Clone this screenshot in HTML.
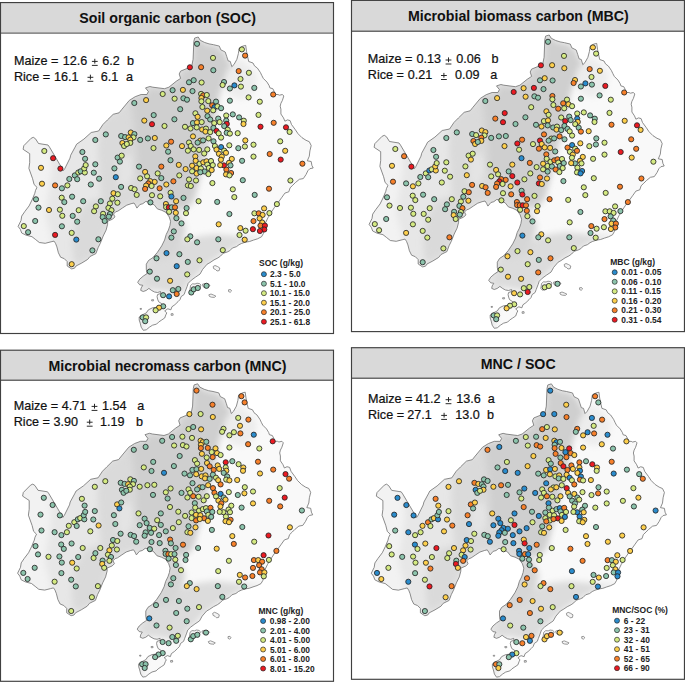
<!DOCTYPE html><html><head><meta charset="utf-8"><style>html,body{margin:0;padding:0;background:#fff;overflow:hidden}svg{display:block}text{font-family:"Liberation Sans",sans-serif}</style></head><body>
<svg width="685" height="682" viewBox="0 0 685 682">
<defs><filter id="gblur" x="-20%" y="-20%" width="140%" height="140%"><feGaussianBlur stdDeviation="3"/></filter><clipPath id="mclip"><path d="M23.1,149.3 L23.8,145.7 L31.1,138.3 L33.3,137.3 L35.5,138.8 L38.5,143.5 L48.0,145.0 L49.5,147.1 L63.4,170.6 L64.9,168.4 L70.0,158.1 L70.7,155.2 L75.1,147.1 L76.6,144.2 L83.9,139.1 L91.2,132.5 L98.6,131.0 L103.0,124.4 L107.4,120.0 L113.2,114.3 L119.1,112.8 L122.0,109.2 L129.3,100.4 L135.2,96.7 L141.1,94.5 L146.9,94.5 L148.4,91.6 L145.5,87.9 L149.9,86.5 L152.8,87.2 L164.5,88.7 L168.9,87.2 L176.2,81.3 L180.6,78.4 L179.2,74.0 L180.6,71.1 L188.0,68.1 L191.6,66.7 L193.1,59.3 L193.8,41.7 L194.6,38.1 L198.2,37.0 L200.3,40.3 L204.7,42.5 L209.1,43.9 L213.5,44.7 L219.3,46.1 L220.8,49.8 L225.2,52.0 L226.7,56.4 L228.1,60.8 L230.3,61.5 L231.8,66.7 L234.0,64.5 L236.9,59.3 L238.4,53.5 L239.1,48.3 L242.8,46.1 L245.7,45.4 L246.5,51.3 L247.9,57.9 L248.7,61.5 L253.0,63.0 L254.5,65.9 L257.4,68.1 L260.4,72.5 L261.8,75.5 L263.3,78.4 L267.0,82.1 L269.2,85.7 L269.9,87.9 L272.8,88.7 L274.3,91.6 L275.0,94.5 L278.0,94.5 L279.4,95.2 L282.4,94.5 L283.8,96.0 L282.4,100.4 L280.9,103.3 L280.2,106.2 L280.9,109.2 L280.9,114.0 L283.5,117.9 L284.9,121.2 L287.5,119.9 L290.1,120.6 L291.5,124.5 L295.4,129.8 L298.0,133.7 L302.0,137.7 L306.0,140.3 L309.3,141.7 L311.2,145.6 L309.9,150.9 L309.3,156.2 L307.3,160.8 L311.2,161.5 L311.9,165.4 L313.2,168.0 L309.9,168.7 L307.9,170.7 L306.0,174.6 L303.3,178.6 L299.4,179.3 L295.4,182.6 L292.8,185.2 L290.1,187.8 L288.8,191.8 L284.9,193.1 L281.9,197.3 L278.6,201.9 L274.6,207.2 L272.0,211.1 L268.0,217.7 L265.4,223.0 L264.1,229.6 L263.4,233.5 L261.5,236.8 L257.5,238.8 L253.5,240.1 L249.6,241.5 L245.6,242.1 L241.7,243.4 L239.0,244.7 L236.4,246.7 L232.4,248.0 L229.8,250.7 L227.2,252.0 L223.2,253.3 L220.6,256.0 L217.9,257.9 L214.0,259.9 L210.0,262.6 L207.1,264.2 L202.7,269.3 L200.0,274.1 L195.4,277.2 L191.3,280.2 L188.2,283.3 L187.2,286.3 L185.2,291.5 L184.1,294.5 L181.1,296.6 L180.0,299.6 L178.0,301.7 L174.9,304.7 L171.9,306.8 L170.9,309.8 L167.8,308.8 L164.7,310.9 L166.8,312.9 L165.8,314.9 L164.7,318.0 L161.7,320.0 L158.6,322.1 L156.6,324.1 L152.5,325.2 L149.4,327.2 L146.3,329.8 L143.3,330.3 L141.2,327.2 L140.2,323.1 L139.2,320.0 L139.2,317.0 L142.3,314.9 L146.3,312.9 L148.4,309.8 L152.5,307.8 L156.6,307.3 L160.6,306.8 L163.7,305.8 L161.7,303.7 L158.6,301.7 L157.6,299.1 L157.1,296.6 L157.6,294.5 L160.6,293.5 L160.6,291.5 L157.6,292.5 L154.5,292.0 L151.5,290.4 L148.9,288.4 L146.3,290.4 L143.3,291.5 L140.7,290.4 L141.2,287.9 L142.8,285.3 L139.7,284.8 L137.7,282.3 L139.7,279.2 L143.3,276.1 L146.3,274.1 L147.0,273.7 L146.3,269.3 L146.3,264.2 L148.5,260.5 L152.9,257.6 L157.3,252.5 L161.7,245.9 L164.6,240.0 L166.2,234.5 L168.4,230.1 L169.9,225.7 L170.6,221.3 L169.2,216.9 L166.2,212.5 L161.8,210.3 L157.4,208.9 L154.5,205.2 L150.1,202.3 L145.7,201.5 L142.8,203.7 L139.9,204.5 L136.9,208.1 L135.5,205.2 L134.0,203.0 L131.1,203.7 L126.7,205.2 L122.3,208.1 L117.9,211.1 L115.7,211.8 L113.5,214.0 L114.9,216.9 L112.7,219.1 L107.6,221.3 L107.6,224.3 L106.1,230.1 L103.2,236.0 L100.3,243.3 L98.1,247.7 L95.9,253.6 L90.0,256.5 L87.7,259.4 L81.8,263.0 L76.0,266.0 L74.5,268.2 L71.6,268.9 L67.2,266.0 L67.2,261.6 L64.3,258.7 L60.6,257.2 L58.4,252.8 L56.9,246.9 L55.5,243.3 L54.0,241.1 L51.1,241.8 L45.2,243.3 L39.3,242.5 L35.7,239.6 L32.0,236.7 L26.1,235.2 L21.7,233.0 L20.3,229.3 L18.1,226.4 L21.0,220.5 L21.7,216.1 L24.7,211.7 L29.1,205.9 L32.0,200.0 L34.8,193.3 L35.5,190.4 L37.0,187.4 L34.1,184.5 L32.6,178.7 L28.9,168.4 L29.7,162.5 L29.7,153.7 Z"/></clipPath>
<g id="map">
<path d="M23.1,149.3 L23.8,145.7 L31.1,138.3 L33.3,137.3 L35.5,138.8 L38.5,143.5 L48.0,145.0 L49.5,147.1 L63.4,170.6 L64.9,168.4 L70.0,158.1 L70.7,155.2 L75.1,147.1 L76.6,144.2 L83.9,139.1 L91.2,132.5 L98.6,131.0 L103.0,124.4 L107.4,120.0 L113.2,114.3 L119.1,112.8 L122.0,109.2 L129.3,100.4 L135.2,96.7 L141.1,94.5 L146.9,94.5 L148.4,91.6 L145.5,87.9 L149.9,86.5 L152.8,87.2 L164.5,88.7 L168.9,87.2 L176.2,81.3 L180.6,78.4 L179.2,74.0 L180.6,71.1 L188.0,68.1 L191.6,66.7 L193.1,59.3 L193.8,41.7 L194.6,38.1 L198.2,37.0 L200.3,40.3 L204.7,42.5 L209.1,43.9 L213.5,44.7 L219.3,46.1 L220.8,49.8 L225.2,52.0 L226.7,56.4 L228.1,60.8 L230.3,61.5 L231.8,66.7 L234.0,64.5 L236.9,59.3 L238.4,53.5 L239.1,48.3 L242.8,46.1 L245.7,45.4 L246.5,51.3 L247.9,57.9 L248.7,61.5 L253.0,63.0 L254.5,65.9 L257.4,68.1 L260.4,72.5 L261.8,75.5 L263.3,78.4 L267.0,82.1 L269.2,85.7 L269.9,87.9 L272.8,88.7 L274.3,91.6 L275.0,94.5 L278.0,94.5 L279.4,95.2 L282.4,94.5 L283.8,96.0 L282.4,100.4 L280.9,103.3 L280.2,106.2 L280.9,109.2 L280.9,114.0 L283.5,117.9 L284.9,121.2 L287.5,119.9 L290.1,120.6 L291.5,124.5 L295.4,129.8 L298.0,133.7 L302.0,137.7 L306.0,140.3 L309.3,141.7 L311.2,145.6 L309.9,150.9 L309.3,156.2 L307.3,160.8 L311.2,161.5 L311.9,165.4 L313.2,168.0 L309.9,168.7 L307.9,170.7 L306.0,174.6 L303.3,178.6 L299.4,179.3 L295.4,182.6 L292.8,185.2 L290.1,187.8 L288.8,191.8 L284.9,193.1 L281.9,197.3 L278.6,201.9 L274.6,207.2 L272.0,211.1 L268.0,217.7 L265.4,223.0 L264.1,229.6 L263.4,233.5 L261.5,236.8 L257.5,238.8 L253.5,240.1 L249.6,241.5 L245.6,242.1 L241.7,243.4 L239.0,244.7 L236.4,246.7 L232.4,248.0 L229.8,250.7 L227.2,252.0 L223.2,253.3 L220.6,256.0 L217.9,257.9 L214.0,259.9 L210.0,262.6 L207.1,264.2 L202.7,269.3 L200.0,274.1 L195.4,277.2 L191.3,280.2 L188.2,283.3 L187.2,286.3 L185.2,291.5 L184.1,294.5 L181.1,296.6 L180.0,299.6 L178.0,301.7 L174.9,304.7 L171.9,306.8 L170.9,309.8 L167.8,308.8 L164.7,310.9 L166.8,312.9 L165.8,314.9 L164.7,318.0 L161.7,320.0 L158.6,322.1 L156.6,324.1 L152.5,325.2 L149.4,327.2 L146.3,329.8 L143.3,330.3 L141.2,327.2 L140.2,323.1 L139.2,320.0 L139.2,317.0 L142.3,314.9 L146.3,312.9 L148.4,309.8 L152.5,307.8 L156.6,307.3 L160.6,306.8 L163.7,305.8 L161.7,303.7 L158.6,301.7 L157.6,299.1 L157.1,296.6 L157.6,294.5 L160.6,293.5 L160.6,291.5 L157.6,292.5 L154.5,292.0 L151.5,290.4 L148.9,288.4 L146.3,290.4 L143.3,291.5 L140.7,290.4 L141.2,287.9 L142.8,285.3 L139.7,284.8 L137.7,282.3 L139.7,279.2 L143.3,276.1 L146.3,274.1 L147.0,273.7 L146.3,269.3 L146.3,264.2 L148.5,260.5 L152.9,257.6 L157.3,252.5 L161.7,245.9 L164.6,240.0 L166.2,234.5 L168.4,230.1 L169.9,225.7 L170.6,221.3 L169.2,216.9 L166.2,212.5 L161.8,210.3 L157.4,208.9 L154.5,205.2 L150.1,202.3 L145.7,201.5 L142.8,203.7 L139.9,204.5 L136.9,208.1 L135.5,205.2 L134.0,203.0 L131.1,203.7 L126.7,205.2 L122.3,208.1 L117.9,211.1 L115.7,211.8 L113.5,214.0 L114.9,216.9 L112.7,219.1 L107.6,221.3 L107.6,224.3 L106.1,230.1 L103.2,236.0 L100.3,243.3 L98.1,247.7 L95.9,253.6 L90.0,256.5 L87.7,259.4 L81.8,263.0 L76.0,266.0 L74.5,268.2 L71.6,268.9 L67.2,266.0 L67.2,261.6 L64.3,258.7 L60.6,257.2 L58.4,252.8 L56.9,246.9 L55.5,243.3 L54.0,241.1 L51.1,241.8 L45.2,243.3 L39.3,242.5 L35.7,239.6 L32.0,236.7 L26.1,235.2 L21.7,233.0 L20.3,229.3 L18.1,226.4 L21.0,220.5 L21.7,216.1 L24.7,211.7 L29.1,205.9 L32.0,200.0 L34.8,193.3 L35.5,190.4 L37.0,187.4 L34.1,184.5 L32.6,178.7 L28.9,168.4 L29.7,162.5 L29.7,153.7 Z" fill="#fff"/>
<g clip-path="url(#mclip)"><path d="M0,0H330V340H0Z" fill="#f9f9f9"/><path d="M0,0 L200,0 L200,130 L196,200 L175,215 L165,240 L150,300 L140,340 L0,340Z" fill="#e7e7e7" filter="url(#gblur)"/><path d="M0,120 L48,120 L52,170 L45,215 L52,240 L50,300 L0,300Z" fill="#f2f2f2" filter="url(#gblur)"/><path d="M228,66 L234,62 L240,58 L250,66 L258,76 L255,92 L242,100 L230,96 L224,84Z" fill="#ededed" filter="url(#gblur)"/><path d="M75,222 L85,203 L100,198 L110,205 L108,222 L104,234 L100,243 L96,253 L88,259 L80,264 L74,262 L72,245Z" fill="#dadada" filter="url(#gblur)"/><path d="M172,246 L185,240 L200,236 L215,234 L235,236 L250,238 L262,236 L257.5,238.8 L249.6,241.5 L241.7,243.4 L236.4,246.7 L229.8,250.7 L223.2,253.3 L217.9,257.9 L210,262.6 L202.7,269.3 L195.4,277.2 L188.2,283.3 L185.2,291.5 L178,293 L165,292 L155,290 L145,287 L140,282 L146,274 L146,264 L152,257 L160,252Z" fill="#dcdcdc" filter="url(#gblur)"/><path d="M158,205 L170,207 L180,215 L186,228 L182,245 L172,257 L160,260 L150,258 L157,245 L163,235 L167,222 L162,212Z" fill="#d6d6d6" filter="url(#gblur)"/><path d="M100,125 L112,114 L122,108 L129,100 L138,105 L138,178 L150,180 L160,188 L170,204 L166,212 L158,209 L150,202 L140,204 L132,203 L122,207 L115,212 L108,220 L102,205 L100,185 L98,150Z" fill="#dadada" filter="url(#gblur)"/><path d="M117,158 L132,155 L135,172 L128,188 L118,186Z" fill="#e4e4e4" filter="url(#gblur)"/><path d="M129.3,100.4 L135.2,96.7 L141.1,94.5 L146.9,94.5 L148.4,91.6 L145.5,87.9 L149.9,86.5 L152.8,87.2 L164.5,88.7 L168.9,87.2 L176.2,81.3 L180.6,78.4 L179.2,74 L180.6,71.1 L188,68.1 L191.6,66.7 L193.1,59.3 L193.8,41.7 L194.6,38.1 L198.2,37 L200.3,40.3 L204.7,42.5 L209.1,43.9 L213.5,44.7 L219.3,46.1 L220.8,49.8 L225.2,52 L226.7,56.4 L228.1,60.8 L230.3,61.5 L231.8,66.7 L228,70 L224,82 L220,94 L217,106 L215,120 L212,132 L208,145 L204,160 L200,178 L195,193 L190,205 L180,210 L170,204 L160,186 L150,178 L137,177 L135,140 L132,108Z" fill="#cfcfcf" filter="url(#gblur)"/></g>
<path d="M23.1,149.3 L23.8,145.7 L31.1,138.3 L33.3,137.3 L35.5,138.8 L38.5,143.5 L48.0,145.0 L49.5,147.1 L63.4,170.6 L64.9,168.4 L70.0,158.1 L70.7,155.2 L75.1,147.1 L76.6,144.2 L83.9,139.1 L91.2,132.5 L98.6,131.0 L103.0,124.4 L107.4,120.0 L113.2,114.3 L119.1,112.8 L122.0,109.2 L129.3,100.4 L135.2,96.7 L141.1,94.5 L146.9,94.5 L148.4,91.6 L145.5,87.9 L149.9,86.5 L152.8,87.2 L164.5,88.7 L168.9,87.2 L176.2,81.3 L180.6,78.4 L179.2,74.0 L180.6,71.1 L188.0,68.1 L191.6,66.7 L193.1,59.3 L193.8,41.7 L194.6,38.1 L198.2,37.0 L200.3,40.3 L204.7,42.5 L209.1,43.9 L213.5,44.7 L219.3,46.1 L220.8,49.8 L225.2,52.0 L226.7,56.4 L228.1,60.8 L230.3,61.5 L231.8,66.7 L234.0,64.5 L236.9,59.3 L238.4,53.5 L239.1,48.3 L242.8,46.1 L245.7,45.4 L246.5,51.3 L247.9,57.9 L248.7,61.5 L253.0,63.0 L254.5,65.9 L257.4,68.1 L260.4,72.5 L261.8,75.5 L263.3,78.4 L267.0,82.1 L269.2,85.7 L269.9,87.9 L272.8,88.7 L274.3,91.6 L275.0,94.5 L278.0,94.5 L279.4,95.2 L282.4,94.5 L283.8,96.0 L282.4,100.4 L280.9,103.3 L280.2,106.2 L280.9,109.2 L280.9,114.0 L283.5,117.9 L284.9,121.2 L287.5,119.9 L290.1,120.6 L291.5,124.5 L295.4,129.8 L298.0,133.7 L302.0,137.7 L306.0,140.3 L309.3,141.7 L311.2,145.6 L309.9,150.9 L309.3,156.2 L307.3,160.8 L311.2,161.5 L311.9,165.4 L313.2,168.0 L309.9,168.7 L307.9,170.7 L306.0,174.6 L303.3,178.6 L299.4,179.3 L295.4,182.6 L292.8,185.2 L290.1,187.8 L288.8,191.8 L284.9,193.1 L281.9,197.3 L278.6,201.9 L274.6,207.2 L272.0,211.1 L268.0,217.7 L265.4,223.0 L264.1,229.6 L263.4,233.5 L261.5,236.8 L257.5,238.8 L253.5,240.1 L249.6,241.5 L245.6,242.1 L241.7,243.4 L239.0,244.7 L236.4,246.7 L232.4,248.0 L229.8,250.7 L227.2,252.0 L223.2,253.3 L220.6,256.0 L217.9,257.9 L214.0,259.9 L210.0,262.6 L207.1,264.2 L202.7,269.3 L200.0,274.1 L195.4,277.2 L191.3,280.2 L188.2,283.3 L187.2,286.3 L185.2,291.5 L184.1,294.5 L181.1,296.6 L180.0,299.6 L178.0,301.7 L174.9,304.7 L171.9,306.8 L170.9,309.8 L167.8,308.8 L164.7,310.9 L166.8,312.9 L165.8,314.9 L164.7,318.0 L161.7,320.0 L158.6,322.1 L156.6,324.1 L152.5,325.2 L149.4,327.2 L146.3,329.8 L143.3,330.3 L141.2,327.2 L140.2,323.1 L139.2,320.0 L139.2,317.0 L142.3,314.9 L146.3,312.9 L148.4,309.8 L152.5,307.8 L156.6,307.3 L160.6,306.8 L163.7,305.8 L161.7,303.7 L158.6,301.7 L157.6,299.1 L157.1,296.6 L157.6,294.5 L160.6,293.5 L160.6,291.5 L157.6,292.5 L154.5,292.0 L151.5,290.4 L148.9,288.4 L146.3,290.4 L143.3,291.5 L140.7,290.4 L141.2,287.9 L142.8,285.3 L139.7,284.8 L137.7,282.3 L139.7,279.2 L143.3,276.1 L146.3,274.1 L147.0,273.7 L146.3,269.3 L146.3,264.2 L148.5,260.5 L152.9,257.6 L157.3,252.5 L161.7,245.9 L164.6,240.0 L166.2,234.5 L168.4,230.1 L169.9,225.7 L170.6,221.3 L169.2,216.9 L166.2,212.5 L161.8,210.3 L157.4,208.9 L154.5,205.2 L150.1,202.3 L145.7,201.5 L142.8,203.7 L139.9,204.5 L136.9,208.1 L135.5,205.2 L134.0,203.0 L131.1,203.7 L126.7,205.2 L122.3,208.1 L117.9,211.1 L115.7,211.8 L113.5,214.0 L114.9,216.9 L112.7,219.1 L107.6,221.3 L107.6,224.3 L106.1,230.1 L103.2,236.0 L100.3,243.3 L98.1,247.7 L95.9,253.6 L90.0,256.5 L87.7,259.4 L81.8,263.0 L76.0,266.0 L74.5,268.2 L71.6,268.9 L67.2,266.0 L67.2,261.6 L64.3,258.7 L60.6,257.2 L58.4,252.8 L56.9,246.9 L55.5,243.3 L54.0,241.1 L51.1,241.8 L45.2,243.3 L39.3,242.5 L35.7,239.6 L32.0,236.7 L26.1,235.2 L21.7,233.0 L20.3,229.3 L18.1,226.4 L21.0,220.5 L21.7,216.1 L24.7,211.7 L29.1,205.9 L32.0,200.0 L34.8,193.3 L35.5,190.4 L37.0,187.4 L34.1,184.5 L32.6,178.7 L28.9,168.4 L29.7,162.5 L29.7,153.7 Z" fill="none" stroke="#707070" stroke-width="0.8" stroke-linejoin="round"/>
<path d="M190.5,285.5 L192.5,283.8 L195.0,284.0 L197.0,283.2 L199.5,283.6 L201.0,285.0 L199.8,287.5 L197.0,289.5 L194.0,291.5 L191.5,292.3 L189.8,290.5 L190.2,288.0ZM202.5,284.2 L205.0,283.6 L208.5,284.0 L210.0,285.5 L208.0,287.2 L205.0,287.8 L203.0,286.6ZM213.2,266.5 L215.0,265.5 L217.5,266.5 L219.8,268.0 L219.2,270.6 L217.0,271.0 L215.5,269.5 L213.6,268.6ZM208.8,294.8 L211.0,294.0 L213.5,295.0 L215.8,296.0 L214.5,297.4 L211.5,297.2 L209.5,296.5ZM228.5,289.8 L230.5,289.5 L231.6,291.0 L230.2,292.3 L228.6,291.6ZM151.5,299.8 L153.5,299.6 L153.6,300.8 L151.8,301.0ZM171.0,313.8 L173.0,313.6 L173.2,315.2 L171.2,315.4ZM140.0,308.5 L141.5,308.4 L141.4,309.4 L140.1,309.3Z" fill="#f4f4f4" stroke="#707070" stroke-width="0.7"/>
</g></defs>
<rect x="0.5" y="2.57" width="333.0" height="330.93" fill="#fff"/>
<rect x="0.5" y="2.57" width="333.0" height="30.53" fill="#d9d9d9"/>
<line x1="0.5" y1="33.1" x2="333.5" y2="33.1" stroke="#6a6a6a" stroke-width="1.4"/>
<rect x="0.5" y="2.57" width="333.0" height="330.93" fill="none" stroke="#404040" stroke-width="1.15"/>
<text x="79.29" y="22.9" font-size="14.2" font-weight="bold" fill="#111">Soil organic carbon (SOC)</text>
<g transform="translate(0,0)">
<use href="#map"/>
<g stroke="#262626" stroke-width="0.85"><circle cx="121.2" cy="136.0" r="2.58" fill="#8cc4ac"/><circle cx="125.1" cy="137.1" r="2.58" fill="#8cc4ac"/><circle cx="130.8" cy="132.5" r="2.58" fill="#fdcf4c"/><circle cx="134.4" cy="134.1" r="2.58" fill="#8cc4ac"/><circle cx="128.6" cy="137.4" r="2.58" fill="#fdcf4c"/><circle cx="133.5" cy="137.4" r="2.58" fill="#d4ea82"/><circle cx="130.3" cy="139.7" r="2.58" fill="#fdcf4c"/><circle cx="130.3" cy="142.9" r="2.58" fill="#d4ea82"/><circle cx="122.4" cy="143.0" r="2.58" fill="#fdcf4c"/><circle cx="124.1" cy="146.0" r="2.58" fill="#d4ea82"/><circle cx="126.8" cy="144.0" r="2.58" fill="#d4ea82"/><circle cx="140.2" cy="139.9" r="2.58" fill="#8cc4ac"/><circle cx="147.9" cy="138.4" r="2.58" fill="#8cc4ac"/><circle cx="154.8" cy="138.0" r="2.58" fill="#fdcf4c"/><circle cx="153.5" cy="148.1" r="2.58" fill="#d4ea82"/><circle cx="152.0" cy="124.2" r="2.58" fill="#ec1a22"/><circle cx="192.5" cy="91.1" r="2.58" fill="#8cc4ac"/><circle cx="201.1" cy="93.9" r="2.58" fill="#d4ea82"/><circle cx="203.2" cy="95.4" r="2.58" fill="#f7802a"/><circle cx="206.8" cy="95.0" r="2.58" fill="#d4ea82"/><circle cx="201.4" cy="98.0" r="2.58" fill="#fdcf4c"/><circle cx="201.4" cy="101.3" r="2.58" fill="#d4ea82"/><circle cx="208.3" cy="101.1" r="2.58" fill="#d4ea82"/><circle cx="216.0" cy="101.6" r="2.58" fill="#8cc4ac"/><circle cx="212.2" cy="105.3" r="2.58" fill="#f7802a"/><circle cx="214.5" cy="107.2" r="2.58" fill="#2a8ccd"/><circle cx="217.5" cy="106.3" r="2.58" fill="#d4ea82"/><circle cx="221.1" cy="108.2" r="2.58" fill="#8cc4ac"/><circle cx="202.4" cy="107.0" r="2.58" fill="#d4ea82"/><circle cx="207.2" cy="110.7" r="2.58" fill="#fdcf4c"/><circle cx="213.2" cy="110.3" r="2.58" fill="#d4ea82"/><circle cx="183.4" cy="98.3" r="2.58" fill="#8cc4ac"/><circle cx="187.0" cy="99.7" r="2.58" fill="#8cc4ac"/><circle cx="229.9" cy="100.7" r="2.58" fill="#8cc4ac"/><circle cx="229.9" cy="88.5" r="2.58" fill="#8cc4ac"/><circle cx="195.4" cy="113.3" r="2.58" fill="#d4ea82"/><circle cx="197.6" cy="116.8" r="2.58" fill="#fdcf4c"/><circle cx="207.5" cy="116.2" r="2.58" fill="#8cc4ac"/><circle cx="210.2" cy="119.5" r="2.58" fill="#8cc4ac"/><circle cx="218.2" cy="118.6" r="2.58" fill="#8cc4ac"/><circle cx="219.7" cy="122.1" r="2.58" fill="#d4ea82"/><circle cx="214.2" cy="123.1" r="2.58" fill="#d4ea82"/><circle cx="226.2" cy="115.5" r="2.58" fill="#d4ea82"/><circle cx="226.2" cy="120.6" r="2.58" fill="#8cc4ac"/><circle cx="226.8" cy="123.9" r="2.58" fill="#ec1a22"/><circle cx="224.2" cy="126.1" r="2.58" fill="#8cc4ac"/><circle cx="227.7" cy="129.7" r="2.58" fill="#d4ea82"/><circle cx="226.7" cy="132.8" r="2.58" fill="#8cc4ac"/><circle cx="229.9" cy="133.6" r="2.58" fill="#d4ea82"/><circle cx="232.8" cy="114.4" r="2.58" fill="#8cc4ac"/><circle cx="192.9" cy="123.1" r="2.58" fill="#8cc4ac"/><circle cx="197.0" cy="122.4" r="2.58" fill="#fdcf4c"/><circle cx="201.7" cy="122.1" r="2.58" fill="#d4ea82"/><circle cx="185.0" cy="126.8" r="2.58" fill="#d4ea82"/><circle cx="190.5" cy="128.5" r="2.58" fill="#d4ea82"/><circle cx="196.7" cy="127.4" r="2.58" fill="#d4ea82"/><circle cx="202.2" cy="129.5" r="2.58" fill="#fdcf4c"/><circle cx="206.0" cy="128.6" r="2.58" fill="#d4ea82"/><circle cx="205.5" cy="131.6" r="2.58" fill="#fdcf4c"/><circle cx="210.2" cy="132.1" r="2.58" fill="#d4ea82"/><circle cx="213.4" cy="127.9" r="2.58" fill="#8cc4ac"/><circle cx="216.5" cy="130.9" r="2.58" fill="#ec1a22"/><circle cx="218.7" cy="133.4" r="2.58" fill="#d4ea82"/><circle cx="221.1" cy="137.6" r="2.58" fill="#d4ea82"/><circle cx="193.0" cy="136.4" r="2.58" fill="#fdcf4c"/><circle cx="208.6" cy="138.4" r="2.58" fill="#d4ea82"/><circle cx="213.5" cy="141.3" r="2.58" fill="#8cc4ac"/><circle cx="200.3" cy="140.6" r="2.58" fill="#fdcf4c"/><circle cx="203.1" cy="140.4" r="2.58" fill="#8cc4ac"/><circle cx="197.6" cy="142.6" r="2.58" fill="#8cc4ac"/><circle cx="189.0" cy="142.5" r="2.58" fill="#d4ea82"/><circle cx="190.7" cy="146.0" r="2.58" fill="#d4ea82"/><circle cx="187.9" cy="150.7" r="2.58" fill="#d4ea82"/><circle cx="193.7" cy="149.4" r="2.58" fill="#d4ea82"/><circle cx="199.1" cy="149.9" r="2.58" fill="#d4ea82"/><circle cx="204.2" cy="153.5" r="2.58" fill="#d4ea82"/><circle cx="207.3" cy="149.4" r="2.58" fill="#d4ea82"/><circle cx="214.9" cy="146.0" r="2.58" fill="#d4ea82"/><circle cx="221.1" cy="147.1" r="2.58" fill="#2a8ccd"/><circle cx="216.5" cy="149.6" r="2.58" fill="#fdcf4c"/><circle cx="224.2" cy="150.7" r="2.58" fill="#d4ea82"/><circle cx="226.0" cy="152.8" r="2.58" fill="#fdcf4c"/><circle cx="218.9" cy="153.8" r="2.58" fill="#fdcf4c"/><circle cx="221.8" cy="156.6" r="2.58" fill="#fdcf4c"/><circle cx="220.9" cy="159.7" r="2.58" fill="#fdcf4c"/><circle cx="229.3" cy="145.3" r="2.58" fill="#d4ea82"/><circle cx="231.8" cy="158.9" r="2.58" fill="#fdcf4c"/><circle cx="229.0" cy="162.8" r="2.58" fill="#fdcf4c"/><circle cx="230.5" cy="165.4" r="2.58" fill="#8cc4ac"/><circle cx="223.9" cy="165.4" r="2.58" fill="#ec1a22"/><circle cx="220.2" cy="165.1" r="2.58" fill="#fdcf4c"/><circle cx="226.4" cy="169.7" r="2.58" fill="#f7802a"/><circle cx="195.3" cy="156.4" r="2.58" fill="#fdcf4c"/><circle cx="195.7" cy="160.8" r="2.58" fill="#fdcf4c"/><circle cx="199.5" cy="163.9" r="2.58" fill="#d4ea82"/><circle cx="203.3" cy="162.3" r="2.58" fill="#fdcf4c"/><circle cx="206.5" cy="161.3" r="2.58" fill="#fdcf4c"/><circle cx="211.0" cy="161.0" r="2.58" fill="#d4ea82"/><circle cx="192.1" cy="165.7" r="2.58" fill="#fdcf4c"/><circle cx="196.5" cy="168.0" r="2.58" fill="#fdcf4c"/><circle cx="200.9" cy="168.5" r="2.58" fill="#d4ea82"/><circle cx="207.3" cy="164.6" r="2.58" fill="#d4ea82"/><circle cx="208.8" cy="168.0" r="2.58" fill="#d4ea82"/><circle cx="212.8" cy="165.1" r="2.58" fill="#d4ea82"/><circle cx="211.7" cy="170.1" r="2.58" fill="#fdcf4c"/><circle cx="204.6" cy="171.5" r="2.58" fill="#8cc4ac"/><circle cx="192.1" cy="171.3" r="2.58" fill="#d4ea82"/><circle cx="196.6" cy="173.6" r="2.58" fill="#fdcf4c"/><circle cx="200.3" cy="172.2" r="2.58" fill="#8cc4ac"/><circle cx="185.6" cy="169.1" r="2.58" fill="#fdcf4c"/><circle cx="208.4" cy="174.1" r="2.58" fill="#d4ea82"/><circle cx="226.0" cy="174.4" r="2.58" fill="#fdcf4c"/><circle cx="231.1" cy="173.0" r="2.58" fill="#f7802a"/><circle cx="245.1" cy="55.6" r="2.58" fill="#f7802a"/><circle cx="238.7" cy="71.1" r="2.58" fill="#f7802a"/><circle cx="248.9" cy="72.8" r="2.58" fill="#d4ea82"/><circle cx="240.5" cy="79.0" r="2.58" fill="#d4ea82"/><circle cx="240.9" cy="86.6" r="2.58" fill="#d4ea82"/><circle cx="254.3" cy="87.9" r="2.58" fill="#8cc4ac"/><circle cx="248.6" cy="97.4" r="2.58" fill="#d4ea82"/><circle cx="259.8" cy="101.7" r="2.58" fill="#d4ea82"/><circle cx="273.2" cy="94.5" r="2.58" fill="#f7802a"/><circle cx="44.3" cy="151.0" r="2.58" fill="#d4ea82"/><circle cx="53.1" cy="158.2" r="2.58" fill="#ec1a22"/><circle cx="60.4" cy="168.6" r="2.58" fill="#ec1a22"/><circle cx="41.0" cy="167.8" r="2.58" fill="#fdcf4c"/><circle cx="42.0" cy="183.7" r="2.58" fill="#fdcf4c"/><circle cx="55.1" cy="185.4" r="2.58" fill="#f7802a"/><circle cx="61.9" cy="188.3" r="2.58" fill="#8cc4ac"/><circle cx="67.4" cy="185.4" r="2.58" fill="#d4ea82"/><circle cx="69.3" cy="179.0" r="2.58" fill="#8cc4ac"/><circle cx="74.8" cy="175.4" r="2.58" fill="#8cc4ac"/><circle cx="77.2" cy="179.2" r="2.58" fill="#8cc4ac"/><circle cx="78.3" cy="172.5" r="2.58" fill="#d4ea82"/><circle cx="80.7" cy="171.3" r="2.58" fill="#8cc4ac"/><circle cx="84.8" cy="172.5" r="2.58" fill="#d4ea82"/><circle cx="84.2" cy="168.4" r="2.58" fill="#d4ea82"/><circle cx="85.7" cy="165.1" r="2.58" fill="#d4ea82"/><circle cx="85.1" cy="158.8" r="2.58" fill="#8cc4ac"/><circle cx="82.4" cy="152.0" r="2.58" fill="#8cc4ac"/><circle cx="90.8" cy="184.5" r="2.58" fill="#8cc4ac"/><circle cx="72.1" cy="196.7" r="2.58" fill="#8cc4ac"/><circle cx="61.7" cy="197.7" r="2.58" fill="#d4ea82"/><circle cx="64.3" cy="202.1" r="2.58" fill="#8cc4ac"/><circle cx="83.2" cy="201.2" r="2.58" fill="#8cc4ac"/><circle cx="36.0" cy="199.3" r="2.58" fill="#8cc4ac"/><circle cx="105.8" cy="134.4" r="2.58" fill="#8cc4ac"/><circle cx="95.3" cy="140.0" r="2.58" fill="#8cc4ac"/><circle cx="166.3" cy="145.5" r="2.58" fill="#fdcf4c"/><circle cx="168.1" cy="151.7" r="2.58" fill="#8cc4ac"/><circle cx="164.5" cy="126.0" r="2.58" fill="#d4ea82"/><circle cx="117.6" cy="157.6" r="2.58" fill="#8cc4ac"/><circle cx="121.7" cy="155.7" r="2.58" fill="#d4ea82"/><circle cx="119.9" cy="161.6" r="2.58" fill="#8cc4ac"/><circle cx="95.3" cy="164.3" r="2.58" fill="#8cc4ac"/><circle cx="114.4" cy="168.4" r="2.58" fill="#8cc4ac"/><circle cx="93.8" cy="172.7" r="2.58" fill="#8cc4ac"/><circle cx="99.1" cy="178.7" r="2.58" fill="#8cc4ac"/><circle cx="115.8" cy="177.2" r="2.58" fill="#2a8ccd"/><circle cx="139.0" cy="166.6" r="2.58" fill="#8cc4ac"/><circle cx="161.3" cy="166.6" r="2.58" fill="#f7802a"/><circle cx="145.1" cy="171.9" r="2.58" fill="#fdcf4c"/><circle cx="147.1" cy="176.3" r="2.58" fill="#d4ea82"/><circle cx="140.2" cy="178.4" r="2.58" fill="#d4ea82"/><circle cx="157.7" cy="173.4" r="2.58" fill="#d4ea82"/><circle cx="161.3" cy="178.1" r="2.58" fill="#8cc4ac"/><circle cx="166.3" cy="184.5" r="2.58" fill="#fdcf4c"/><circle cx="159.6" cy="188.3" r="2.58" fill="#f7802a"/><circle cx="150.2" cy="181.1" r="2.58" fill="#fdcf4c"/><circle cx="154.7" cy="181.9" r="2.58" fill="#fdcf4c"/><circle cx="148.3" cy="183.4" r="2.58" fill="#f7802a"/><circle cx="146.1" cy="185.6" r="2.58" fill="#fdcf4c"/><circle cx="151.6" cy="186.0" r="2.58" fill="#d4ea82"/><circle cx="145.1" cy="188.9" r="2.58" fill="#f7802a"/><circle cx="121.1" cy="186.9" r="2.58" fill="#8cc4ac"/><circle cx="131.1" cy="188.0" r="2.58" fill="#d4ea82"/><circle cx="134.6" cy="189.3" r="2.58" fill="#d4ea82"/><circle cx="136.7" cy="194.9" r="2.58" fill="#d4ea82"/><circle cx="152.0" cy="195.2" r="2.58" fill="#d4ea82"/><circle cx="160.2" cy="196.3" r="2.58" fill="#d4ea82"/><circle cx="113.5" cy="193.2" r="2.58" fill="#fdcf4c"/><circle cx="117.8" cy="194.2" r="2.58" fill="#d4ea82"/><circle cx="112.3" cy="198.7" r="2.58" fill="#d4ea82"/><circle cx="109.9" cy="203.5" r="2.58" fill="#d4ea82"/><circle cx="117.4" cy="202.7" r="2.58" fill="#d4ea82"/><circle cx="100.8" cy="201.2" r="2.58" fill="#8cc4ac"/><circle cx="150.4" cy="202.4" r="2.58" fill="#8cc4ac"/><circle cx="237.7" cy="133.2" r="2.58" fill="#d4ea82"/><circle cx="171.1" cy="141.7" r="2.58" fill="#f7802a"/><circle cx="182.0" cy="146.1" r="2.58" fill="#fdcf4c"/><circle cx="238.3" cy="148.2" r="2.58" fill="#8cc4ac"/><circle cx="170.5" cy="160.2" r="2.58" fill="#8cc4ac"/><circle cx="178.8" cy="164.9" r="2.58" fill="#fdcf4c"/><circle cx="179.3" cy="175.4" r="2.58" fill="#d4ea82"/><circle cx="229.5" cy="175.4" r="2.58" fill="#d4ea82"/><circle cx="242.1" cy="160.8" r="2.58" fill="#8cc4ac"/><circle cx="242.8" cy="180.2" r="2.58" fill="#8cc4ac"/><circle cx="189.0" cy="179.5" r="2.58" fill="#d4ea82"/><circle cx="196.0" cy="180.5" r="2.58" fill="#d4ea82"/><circle cx="187.9" cy="185.4" r="2.58" fill="#d4ea82"/><circle cx="190.8" cy="186.0" r="2.58" fill="#d4ea82"/><circle cx="212.4" cy="183.1" r="2.58" fill="#d4ea82"/><circle cx="173.4" cy="181.3" r="2.58" fill="#f7802a"/><circle cx="170.6" cy="192.8" r="2.58" fill="#d4ea82"/><circle cx="171.4" cy="196.5" r="2.58" fill="#2a8ccd"/><circle cx="183.5" cy="197.9" r="2.58" fill="#8cc4ac"/><circle cx="176.1" cy="201.2" r="2.58" fill="#fdcf4c"/><circle cx="198.6" cy="201.2" r="2.58" fill="#d4ea82"/><circle cx="217.2" cy="201.9" r="2.58" fill="#8cc4ac"/><circle cx="232.8" cy="189.3" r="2.58" fill="#d4ea82"/><circle cx="234.3" cy="197.1" r="2.58" fill="#d4ea82"/><circle cx="258.5" cy="114.9" r="2.58" fill="#d4ea82"/><circle cx="243.8" cy="120.7" r="2.58" fill="#d4ea82"/><circle cx="243.5" cy="124.0" r="2.58" fill="#fdcf4c"/><circle cx="260.5" cy="126.7" r="2.58" fill="#ec1a22"/><circle cx="273.7" cy="122.8" r="2.58" fill="#f7802a"/><circle cx="286.0" cy="127.3" r="2.58" fill="#ec1a22"/><circle cx="289.6" cy="131.9" r="2.58" fill="#d4ea82"/><circle cx="245.3" cy="140.4" r="2.58" fill="#fdcf4c"/><circle cx="244.9" cy="146.5" r="2.58" fill="#d4ea82"/><circle cx="253.5" cy="144.7" r="2.58" fill="#d4ea82"/><circle cx="280.2" cy="141.3" r="2.58" fill="#d4ea82"/><circle cx="285.2" cy="150.8" r="2.58" fill="#fdcf4c"/><circle cx="269.7" cy="154.0" r="2.58" fill="#f7802a"/><circle cx="253.5" cy="156.6" r="2.58" fill="#d4ea82"/><circle cx="280.7" cy="159.6" r="2.58" fill="#ec1a22"/><circle cx="302.4" cy="163.7" r="2.58" fill="#f7802a"/><circle cx="213.0" cy="57.9" r="2.58" fill="#d4ea82"/><circle cx="189.9" cy="67.3" r="2.58" fill="#ec1a22"/><circle cx="201.1" cy="67.2" r="2.58" fill="#f7802a"/><circle cx="213.3" cy="70.2" r="2.58" fill="#8cc4ac"/><circle cx="241.9" cy="49.4" r="2.58" fill="#d4ea82"/><circle cx="234.4" cy="85.4" r="2.58" fill="#2a8ccd"/><circle cx="224.0" cy="82.0" r="2.58" fill="#8cc4ac"/><circle cx="222.6" cy="85.0" r="2.58" fill="#d4ea82"/><circle cx="189.0" cy="82.3" r="2.58" fill="#8cc4ac"/><circle cx="193.7" cy="80.2" r="2.58" fill="#8cc4ac"/><circle cx="201.6" cy="82.5" r="2.58" fill="#d4ea82"/><circle cx="172.6" cy="90.2" r="2.58" fill="#8cc4ac"/><circle cx="182.9" cy="89.9" r="2.58" fill="#fdcf4c"/><circle cx="174.6" cy="98.7" r="2.58" fill="#d4ea82"/><circle cx="180.2" cy="109.2" r="2.58" fill="#8cc4ac"/><circle cx="239.1" cy="117.4" r="2.58" fill="#8cc4ac"/><circle cx="174.4" cy="119.3" r="2.58" fill="#8cc4ac"/><circle cx="197.0" cy="43.8" r="2.58" fill="#8cc4ac"/><circle cx="162.7" cy="94.0" r="2.58" fill="#d4ea82"/><circle cx="146.1" cy="100.1" r="2.58" fill="#fdcf4c"/><circle cx="134.3" cy="103.0" r="2.58" fill="#8cc4ac"/><circle cx="153.7" cy="115.1" r="2.58" fill="#8cc4ac"/><circle cx="144.3" cy="120.6" r="2.58" fill="#fdcf4c"/><circle cx="38.5" cy="207.6" r="2.58" fill="#8cc4ac"/><circle cx="49.0" cy="210.0" r="2.58" fill="#fdcf4c"/><circle cx="59.9" cy="209.7" r="2.58" fill="#d4ea82"/><circle cx="78.7" cy="210.2" r="2.58" fill="#d4ea82"/><circle cx="62.3" cy="215.8" r="2.58" fill="#d4ea82"/><circle cx="72.7" cy="215.9" r="2.58" fill="#8cc4ac"/><circle cx="77.2" cy="221.7" r="2.58" fill="#8cc4ac"/><circle cx="35.2" cy="221.0" r="2.58" fill="#8cc4ac"/><circle cx="23.8" cy="226.1" r="2.58" fill="#d4ea82"/><circle cx="28.1" cy="232.2" r="2.58" fill="#8cc4ac"/><circle cx="61.9" cy="226.3" r="2.58" fill="#8cc4ac"/><circle cx="55.1" cy="234.9" r="2.58" fill="#ec1a22"/><circle cx="71.7" cy="232.9" r="2.58" fill="#d4ea82"/><circle cx="76.3" cy="239.6" r="2.58" fill="#2a8ccd"/><circle cx="92.4" cy="250.4" r="2.58" fill="#8cc4ac"/><circle cx="71.7" cy="264.2" r="2.58" fill="#fdcf4c"/><circle cx="95.9" cy="206.4" r="2.58" fill="#d4ea82"/><circle cx="94.1" cy="211.2" r="2.58" fill="#d4ea82"/><circle cx="108.4" cy="207.9" r="2.58" fill="#d4ea82"/><circle cx="111.5" cy="210.2" r="2.58" fill="#d4ea82"/><circle cx="103.1" cy="213.8" r="2.58" fill="#d4ea82"/><circle cx="109.9" cy="214.0" r="2.58" fill="#8cc4ac"/><circle cx="108.8" cy="216.7" r="2.58" fill="#8cc4ac"/><circle cx="102.7" cy="217.1" r="2.58" fill="#8cc4ac"/><circle cx="104.7" cy="221.0" r="2.58" fill="#8cc4ac"/><circle cx="98.4" cy="239.3" r="2.58" fill="#8cc4ac"/><circle cx="165.9" cy="204.0" r="2.58" fill="#fdcf4c"/><circle cx="166.1" cy="207.1" r="2.58" fill="#d4ea82"/><circle cx="166.5" cy="253.1" r="2.58" fill="#2a8ccd"/><circle cx="156.5" cy="258.3" r="2.58" fill="#8cc4ac"/><circle cx="149.8" cy="271.6" r="2.58" fill="#8cc4ac"/><circle cx="168.8" cy="207.3" r="2.58" fill="#ec1a22"/><circle cx="171.7" cy="207.3" r="2.58" fill="#8cc4ac"/><circle cx="175.0" cy="207.3" r="2.58" fill="#f7802a"/><circle cx="169.1" cy="211.8" r="2.58" fill="#d4ea82"/><circle cx="175.8" cy="212.8" r="2.58" fill="#fdcf4c"/><circle cx="186.6" cy="208.1" r="2.58" fill="#8cc4ac"/><circle cx="186.0" cy="213.2" r="2.58" fill="#d4ea82"/><circle cx="176.4" cy="218.2" r="2.58" fill="#8cc4ac"/><circle cx="181.5" cy="223.4" r="2.58" fill="#8cc4ac"/><circle cx="229.4" cy="214.0" r="2.58" fill="#8cc4ac"/><circle cx="218.7" cy="224.3" r="2.58" fill="#fdcf4c"/><circle cx="173.8" cy="231.4" r="2.58" fill="#8cc4ac"/><circle cx="171.4" cy="237.6" r="2.58" fill="#8cc4ac"/><circle cx="190.3" cy="236.3" r="2.58" fill="#8cc4ac"/><circle cx="187.3" cy="239.3" r="2.58" fill="#d4ea82"/><circle cx="197.1" cy="242.3" r="2.58" fill="#8cc4ac"/><circle cx="218.3" cy="239.3" r="2.58" fill="#8cc4ac"/><circle cx="222.8" cy="250.1" r="2.58" fill="#d4ea82"/><circle cx="179.4" cy="254.2" r="2.58" fill="#8cc4ac"/><circle cx="199.5" cy="260.3" r="2.58" fill="#d4ea82"/><circle cx="187.8" cy="261.9" r="2.58" fill="#8cc4ac"/><circle cx="176.7" cy="266.2" r="2.58" fill="#2a8ccd"/><circle cx="187.2" cy="274.4" r="2.58" fill="#d4ea82"/><circle cx="290.4" cy="180.5" r="2.58" fill="#d4ea82"/><circle cx="269.0" cy="188.7" r="2.58" fill="#f7802a"/><circle cx="254.7" cy="194.9" r="2.58" fill="#8cc4ac"/><circle cx="276.9" cy="204.1" r="2.58" fill="#d4ea82"/><circle cx="264.1" cy="208.4" r="2.58" fill="#fdcf4c"/><circle cx="269.4" cy="213.1" r="2.58" fill="#d4ea82"/><circle cx="254.4" cy="213.3" r="2.58" fill="#d4ea82"/><circle cx="258.7" cy="213.3" r="2.58" fill="#f7802a"/><circle cx="262.6" cy="214.9" r="2.58" fill="#fdcf4c"/><circle cx="259.6" cy="218.4" r="2.58" fill="#fdcf4c"/><circle cx="262.2" cy="222.5" r="2.58" fill="#fdcf4c"/><circle cx="253.5" cy="221.1" r="2.58" fill="#f7802a"/><circle cx="260.5" cy="225.6" r="2.58" fill="#f7802a"/><circle cx="264.9" cy="225.6" r="2.58" fill="#ec1a22"/><circle cx="264.3" cy="229.5" r="2.58" fill="#ec1a22"/><circle cx="259.9" cy="231.0" r="2.58" fill="#ec1a22"/><circle cx="252.9" cy="229.2" r="2.58" fill="#ec1a22"/><circle cx="240.3" cy="228.1" r="2.58" fill="#fdcf4c"/><circle cx="245.6" cy="230.7" r="2.58" fill="#d4ea82"/><circle cx="239.5" cy="235.0" r="2.58" fill="#d4ea82"/><circle cx="244.7" cy="239.7" r="2.58" fill="#fdcf4c"/><circle cx="157.0" cy="278.7" r="2.58" fill="#8cc4ac"/><circle cx="170.1" cy="280.8" r="2.58" fill="#fdcf4c"/><circle cx="172.8" cy="290.2" r="2.58" fill="#8cc4ac"/><circle cx="178.3" cy="289.0" r="2.58" fill="#8cc4ac"/><circle cx="176.7" cy="294.0" r="2.58" fill="#f7802a"/><circle cx="163.1" cy="295.2" r="2.58" fill="#8cc4ac"/><circle cx="169.1" cy="296.4" r="2.58" fill="#2a8ccd"/><circle cx="191.3" cy="292.5" r="2.58" fill="#8cc4ac"/><circle cx="193.7" cy="289.3" r="2.58" fill="#8cc4ac"/><circle cx="197.8" cy="288.0" r="2.58" fill="#8cc4ac"/><circle cx="206.5" cy="285.8" r="2.58" fill="#8cc4ac"/><circle cx="163.2" cy="306.3" r="2.58" fill="#8cc4ac"/><circle cx="159.0" cy="307.7" r="2.58" fill="#fdcf4c"/><circle cx="155.6" cy="310.3" r="2.58" fill="#d4ea82"/><circle cx="142.7" cy="317.4" r="2.58" fill="#8cc4ac"/><circle cx="146.1" cy="317.4" r="2.58" fill="#d4ea82"/><circle cx="145.2" cy="321.2" r="2.58" fill="#8cc4ac"/></g>
</g>
<text x="259.06" y="266.3" font-size="8.5" font-weight="bold" fill="#222">SOC (g/kg)</text>
<circle cx="263.9" cy="274.20" r="2.5" fill="#2a8ccd" stroke="#262626" stroke-width="0.7"/>
<text x="270.01" y="277.20" font-size="8.4" font-weight="bold" fill="#222">2.3 - 5.0</text>
<circle cx="263.9" cy="283.70" r="2.5" fill="#8cc4ac" stroke="#262626" stroke-width="0.7"/>
<text x="270.04" y="286.70" font-size="8.4" font-weight="bold" fill="#222">5.1 - 10.0</text>
<circle cx="263.9" cy="293.20" r="2.5" fill="#d4ea82" stroke="#262626" stroke-width="0.7"/>
<text x="269.77" y="296.20" font-size="8.4" font-weight="bold" fill="#222">10.1 - 15.0</text>
<circle cx="263.9" cy="302.70" r="2.5" fill="#fdcf4c" stroke="#262626" stroke-width="0.7"/>
<text x="269.77" y="305.70" font-size="8.4" font-weight="bold" fill="#222">15.1 - 20.0</text>
<circle cx="263.9" cy="312.20" r="2.5" fill="#f7802a" stroke="#262626" stroke-width="0.7"/>
<text x="270.01" y="315.20" font-size="8.4" font-weight="bold" fill="#222">20.1 - 25.0</text>
<circle cx="263.9" cy="321.70" r="2.5" fill="#ec1a22" stroke="#262626" stroke-width="0.7"/>
<text x="270.01" y="324.70" font-size="8.4" font-weight="bold" fill="#222">25.1 - 61.8</text>
<rect x="351.5" y="0.4" width="332.95000000000005" height="331.20000000000005" fill="#fff"/>
<rect x="351.5" y="0.4" width="332.95000000000005" height="30.8" fill="#d9d9d9"/>
<line x1="351.5" y1="31.2" x2="684.45" y2="31.2" stroke="#6a6a6a" stroke-width="1.4"/>
<rect x="351.5" y="0.4" width="332.95000000000005" height="331.20000000000005" fill="none" stroke="#404040" stroke-width="1.15"/>
<text x="407.95" y="20.9" font-size="14.2" font-weight="bold" fill="#111">Microbial biomass carbon (MBC)</text>
<g transform="translate(351,-2)">
<use href="#map"/>
<g stroke="#262626" stroke-width="0.85"><circle cx="121.2" cy="136.0" r="2.58" fill="#8cc4ac"/><circle cx="125.1" cy="137.1" r="2.58" fill="#d4ea82"/><circle cx="130.8" cy="132.5" r="2.58" fill="#fdcf4c"/><circle cx="134.4" cy="134.1" r="2.58" fill="#fdcf4c"/><circle cx="133.5" cy="137.4" r="2.58" fill="#d4ea82"/><circle cx="130.3" cy="139.7" r="2.58" fill="#f7802a"/><circle cx="130.3" cy="142.9" r="2.58" fill="#fdcf4c"/><circle cx="122.4" cy="143.0" r="2.58" fill="#f7802a"/><circle cx="124.1" cy="146.0" r="2.58" fill="#fdcf4c"/><circle cx="126.8" cy="144.0" r="2.58" fill="#8cc4ac"/><circle cx="140.2" cy="139.9" r="2.58" fill="#8cc4ac"/><circle cx="147.9" cy="138.4" r="2.58" fill="#8cc4ac"/><circle cx="154.8" cy="138.0" r="2.58" fill="#8cc4ac"/><circle cx="153.5" cy="148.1" r="2.58" fill="#fdcf4c"/><circle cx="152.0" cy="124.2" r="2.58" fill="#ec1a22"/><circle cx="192.5" cy="91.1" r="2.58" fill="#8cc4ac"/><circle cx="201.4" cy="98.0" r="2.58" fill="#f7802a"/><circle cx="201.4" cy="101.3" r="2.58" fill="#d4ea82"/><circle cx="216.0" cy="101.6" r="2.58" fill="#d4ea82"/><circle cx="212.2" cy="105.3" r="2.58" fill="#f7802a"/><circle cx="217.5" cy="106.3" r="2.58" fill="#fdcf4c"/><circle cx="221.1" cy="108.2" r="2.58" fill="#d4ea82"/><circle cx="202.4" cy="107.0" r="2.58" fill="#d4ea82"/><circle cx="207.2" cy="110.7" r="2.58" fill="#f7802a"/><circle cx="213.2" cy="110.3" r="2.58" fill="#d4ea82"/><circle cx="183.4" cy="98.3" r="2.58" fill="#8cc4ac"/><circle cx="187.0" cy="99.7" r="2.58" fill="#8cc4ac"/><circle cx="229.9" cy="100.7" r="2.58" fill="#8cc4ac"/><circle cx="229.9" cy="88.5" r="2.58" fill="#8cc4ac"/><circle cx="195.4" cy="113.3" r="2.58" fill="#fdcf4c"/><circle cx="197.6" cy="116.8" r="2.58" fill="#d4ea82"/><circle cx="210.2" cy="119.5" r="2.58" fill="#d4ea82"/><circle cx="218.2" cy="118.6" r="2.58" fill="#8cc4ac"/><circle cx="219.7" cy="122.1" r="2.58" fill="#8cc4ac"/><circle cx="214.2" cy="123.1" r="2.58" fill="#ec1a22"/><circle cx="226.2" cy="115.5" r="2.58" fill="#d4ea82"/><circle cx="226.2" cy="120.6" r="2.58" fill="#2a8ccd"/><circle cx="226.8" cy="123.9" r="2.58" fill="#fdcf4c"/><circle cx="224.2" cy="126.1" r="2.58" fill="#d4ea82"/><circle cx="227.7" cy="129.7" r="2.58" fill="#8cc4ac"/><circle cx="229.9" cy="133.6" r="2.58" fill="#f7802a"/><circle cx="232.8" cy="114.4" r="2.58" fill="#d4ea82"/><circle cx="192.9" cy="123.1" r="2.58" fill="#d4ea82"/><circle cx="197.0" cy="122.4" r="2.58" fill="#fdcf4c"/><circle cx="185.0" cy="126.8" r="2.58" fill="#8cc4ac"/><circle cx="190.5" cy="128.5" r="2.58" fill="#fdcf4c"/><circle cx="196.7" cy="127.4" r="2.58" fill="#8cc4ac"/><circle cx="202.2" cy="129.5" r="2.58" fill="#8cc4ac"/><circle cx="206.0" cy="128.6" r="2.58" fill="#d4ea82"/><circle cx="205.5" cy="131.6" r="2.58" fill="#fdcf4c"/><circle cx="210.2" cy="132.1" r="2.58" fill="#8cc4ac"/><circle cx="213.4" cy="127.9" r="2.58" fill="#8cc4ac"/><circle cx="216.5" cy="130.9" r="2.58" fill="#8cc4ac"/><circle cx="218.7" cy="133.4" r="2.58" fill="#d4ea82"/><circle cx="221.1" cy="137.6" r="2.58" fill="#d4ea82"/><circle cx="193.0" cy="136.4" r="2.58" fill="#f7802a"/><circle cx="208.6" cy="138.4" r="2.58" fill="#f7802a"/><circle cx="213.5" cy="141.3" r="2.58" fill="#8cc4ac"/><circle cx="200.3" cy="140.6" r="2.58" fill="#d4ea82"/><circle cx="203.1" cy="140.4" r="2.58" fill="#8cc4ac"/><circle cx="197.6" cy="142.6" r="2.58" fill="#8cc4ac"/><circle cx="189.0" cy="142.5" r="2.58" fill="#ec1a22"/><circle cx="190.7" cy="146.0" r="2.58" fill="#fdcf4c"/><circle cx="187.9" cy="150.7" r="2.58" fill="#f7802a"/><circle cx="193.7" cy="149.4" r="2.58" fill="#fdcf4c"/><circle cx="199.1" cy="149.9" r="2.58" fill="#fdcf4c"/><circle cx="204.2" cy="153.5" r="2.58" fill="#8cc4ac"/><circle cx="221.1" cy="147.1" r="2.58" fill="#2a8ccd"/><circle cx="216.5" cy="149.6" r="2.58" fill="#f7802a"/><circle cx="224.2" cy="150.7" r="2.58" fill="#d4ea82"/><circle cx="226.0" cy="152.8" r="2.58" fill="#f7802a"/><circle cx="218.9" cy="153.8" r="2.58" fill="#d4ea82"/><circle cx="221.8" cy="156.6" r="2.58" fill="#fdcf4c"/><circle cx="220.9" cy="159.7" r="2.58" fill="#d4ea82"/><circle cx="229.3" cy="145.3" r="2.58" fill="#fdcf4c"/><circle cx="231.8" cy="158.9" r="2.58" fill="#fdcf4c"/><circle cx="229.0" cy="162.8" r="2.58" fill="#fdcf4c"/><circle cx="230.5" cy="165.4" r="2.58" fill="#d4ea82"/><circle cx="223.9" cy="165.4" r="2.58" fill="#8cc4ac"/><circle cx="220.2" cy="165.1" r="2.58" fill="#fdcf4c"/><circle cx="226.4" cy="169.7" r="2.58" fill="#d4ea82"/><circle cx="195.3" cy="156.4" r="2.58" fill="#f7802a"/><circle cx="195.7" cy="160.8" r="2.58" fill="#d4ea82"/><circle cx="199.5" cy="163.9" r="2.58" fill="#d4ea82"/><circle cx="203.3" cy="162.3" r="2.58" fill="#f7802a"/><circle cx="206.5" cy="161.3" r="2.58" fill="#f7802a"/><circle cx="211.0" cy="161.0" r="2.58" fill="#d4ea82"/><circle cx="192.1" cy="165.7" r="2.58" fill="#fdcf4c"/><circle cx="196.5" cy="168.0" r="2.58" fill="#d4ea82"/><circle cx="200.9" cy="168.5" r="2.58" fill="#8cc4ac"/><circle cx="207.3" cy="164.6" r="2.58" fill="#d4ea82"/><circle cx="208.8" cy="168.0" r="2.58" fill="#8cc4ac"/><circle cx="212.8" cy="165.1" r="2.58" fill="#8cc4ac"/><circle cx="211.7" cy="170.1" r="2.58" fill="#d4ea82"/><circle cx="204.6" cy="171.5" r="2.58" fill="#f7802a"/><circle cx="192.1" cy="171.3" r="2.58" fill="#d4ea82"/><circle cx="196.6" cy="173.6" r="2.58" fill="#8cc4ac"/><circle cx="185.6" cy="169.1" r="2.58" fill="#d4ea82"/><circle cx="208.4" cy="174.1" r="2.58" fill="#d4ea82"/><circle cx="226.0" cy="174.4" r="2.58" fill="#d4ea82"/><circle cx="231.1" cy="173.0" r="2.58" fill="#2a8ccd"/><circle cx="245.1" cy="55.6" r="2.58" fill="#d4ea82"/><circle cx="238.7" cy="71.1" r="2.58" fill="#f7802a"/><circle cx="248.9" cy="72.8" r="2.58" fill="#fdcf4c"/><circle cx="240.5" cy="79.0" r="2.58" fill="#d4ea82"/><circle cx="240.9" cy="86.6" r="2.58" fill="#8cc4ac"/><circle cx="254.3" cy="87.9" r="2.58" fill="#ec1a22"/><circle cx="248.6" cy="97.4" r="2.58" fill="#8cc4ac"/><circle cx="259.8" cy="101.7" r="2.58" fill="#d4ea82"/><circle cx="273.2" cy="94.5" r="2.58" fill="#f7802a"/><circle cx="44.3" cy="151.0" r="2.58" fill="#d4ea82"/><circle cx="53.1" cy="158.2" r="2.58" fill="#f7802a"/><circle cx="60.4" cy="168.6" r="2.58" fill="#ec1a22"/><circle cx="41.0" cy="167.8" r="2.58" fill="#fdcf4c"/><circle cx="42.0" cy="183.7" r="2.58" fill="#f7802a"/><circle cx="55.1" cy="185.4" r="2.58" fill="#8cc4ac"/><circle cx="61.9" cy="188.3" r="2.58" fill="#fdcf4c"/><circle cx="67.4" cy="185.4" r="2.58" fill="#d4ea82"/><circle cx="69.3" cy="179.0" r="2.58" fill="#8cc4ac"/><circle cx="74.8" cy="175.4" r="2.58" fill="#d4ea82"/><circle cx="77.2" cy="179.2" r="2.58" fill="#8cc4ac"/><circle cx="78.3" cy="172.5" r="2.58" fill="#2a8ccd"/><circle cx="80.7" cy="171.3" r="2.58" fill="#d4ea82"/><circle cx="84.8" cy="172.5" r="2.58" fill="#fdcf4c"/><circle cx="84.2" cy="168.4" r="2.58" fill="#fdcf4c"/><circle cx="85.7" cy="165.1" r="2.58" fill="#d4ea82"/><circle cx="85.1" cy="158.8" r="2.58" fill="#8cc4ac"/><circle cx="82.4" cy="152.0" r="2.58" fill="#8cc4ac"/><circle cx="90.8" cy="184.5" r="2.58" fill="#d4ea82"/><circle cx="72.1" cy="196.7" r="2.58" fill="#8cc4ac"/><circle cx="61.7" cy="197.7" r="2.58" fill="#d4ea82"/><circle cx="64.3" cy="202.1" r="2.58" fill="#d4ea82"/><circle cx="83.2" cy="201.2" r="2.58" fill="#8cc4ac"/><circle cx="36.0" cy="199.3" r="2.58" fill="#8cc4ac"/><circle cx="105.8" cy="134.4" r="2.58" fill="#8cc4ac"/><circle cx="95.3" cy="140.0" r="2.58" fill="#8cc4ac"/><circle cx="166.3" cy="145.5" r="2.58" fill="#ec1a22"/><circle cx="168.1" cy="151.7" r="2.58" fill="#d4ea82"/><circle cx="164.5" cy="126.0" r="2.58" fill="#8cc4ac"/><circle cx="117.6" cy="157.6" r="2.58" fill="#d4ea82"/><circle cx="121.7" cy="155.7" r="2.58" fill="#d4ea82"/><circle cx="119.9" cy="161.6" r="2.58" fill="#fdcf4c"/><circle cx="95.3" cy="164.3" r="2.58" fill="#d4ea82"/><circle cx="114.4" cy="168.4" r="2.58" fill="#d4ea82"/><circle cx="93.8" cy="172.7" r="2.58" fill="#d4ea82"/><circle cx="99.1" cy="178.7" r="2.58" fill="#d4ea82"/><circle cx="115.8" cy="177.2" r="2.58" fill="#fdcf4c"/><circle cx="139.0" cy="166.6" r="2.58" fill="#d4ea82"/><circle cx="161.3" cy="166.6" r="2.58" fill="#fdcf4c"/><circle cx="145.1" cy="171.9" r="2.58" fill="#fdcf4c"/><circle cx="147.1" cy="176.3" r="2.58" fill="#d4ea82"/><circle cx="140.2" cy="178.4" r="2.58" fill="#d4ea82"/><circle cx="157.7" cy="173.4" r="2.58" fill="#8cc4ac"/><circle cx="161.3" cy="178.1" r="2.58" fill="#ec1a22"/><circle cx="166.3" cy="184.5" r="2.58" fill="#ec1a22"/><circle cx="159.6" cy="188.3" r="2.58" fill="#fdcf4c"/><circle cx="150.2" cy="181.1" r="2.58" fill="#f7802a"/><circle cx="154.7" cy="181.9" r="2.58" fill="#f7802a"/><circle cx="148.3" cy="183.4" r="2.58" fill="#ec1a22"/><circle cx="146.1" cy="185.6" r="2.58" fill="#f7802a"/><circle cx="151.6" cy="186.0" r="2.58" fill="#d4ea82"/><circle cx="145.1" cy="188.9" r="2.58" fill="#f7802a"/><circle cx="121.1" cy="186.9" r="2.58" fill="#f7802a"/><circle cx="131.1" cy="188.0" r="2.58" fill="#fdcf4c"/><circle cx="134.6" cy="189.3" r="2.58" fill="#f7802a"/><circle cx="136.7" cy="194.9" r="2.58" fill="#f7802a"/><circle cx="152.0" cy="195.2" r="2.58" fill="#d4ea82"/><circle cx="160.2" cy="196.3" r="2.58" fill="#f7802a"/><circle cx="113.5" cy="193.2" r="2.58" fill="#d4ea82"/><circle cx="117.8" cy="194.2" r="2.58" fill="#f7802a"/><circle cx="112.3" cy="198.7" r="2.58" fill="#8cc4ac"/><circle cx="109.9" cy="203.5" r="2.58" fill="#d4ea82"/><circle cx="117.4" cy="202.7" r="2.58" fill="#fdcf4c"/><circle cx="100.8" cy="201.2" r="2.58" fill="#d4ea82"/><circle cx="150.4" cy="202.4" r="2.58" fill="#d4ea82"/><circle cx="237.7" cy="133.2" r="2.58" fill="#fdcf4c"/><circle cx="171.1" cy="141.7" r="2.58" fill="#f7802a"/><circle cx="182.0" cy="146.1" r="2.58" fill="#d4ea82"/><circle cx="238.3" cy="148.2" r="2.58" fill="#d4ea82"/><circle cx="170.5" cy="160.2" r="2.58" fill="#2a8ccd"/><circle cx="178.8" cy="164.9" r="2.58" fill="#f7802a"/><circle cx="179.3" cy="175.4" r="2.58" fill="#d4ea82"/><circle cx="229.5" cy="175.4" r="2.58" fill="#2a8ccd"/><circle cx="242.1" cy="160.8" r="2.58" fill="#d4ea82"/><circle cx="242.8" cy="180.2" r="2.58" fill="#d4ea82"/><circle cx="189.0" cy="179.5" r="2.58" fill="#f7802a"/><circle cx="196.0" cy="180.5" r="2.58" fill="#fdcf4c"/><circle cx="187.9" cy="185.4" r="2.58" fill="#ec1a22"/><circle cx="190.8" cy="186.0" r="2.58" fill="#fdcf4c"/><circle cx="212.4" cy="183.1" r="2.58" fill="#8cc4ac"/><circle cx="173.4" cy="181.3" r="2.58" fill="#d4ea82"/><circle cx="170.6" cy="192.8" r="2.58" fill="#8cc4ac"/><circle cx="171.4" cy="196.5" r="2.58" fill="#ec1a22"/><circle cx="183.5" cy="197.9" r="2.58" fill="#d4ea82"/><circle cx="176.1" cy="201.2" r="2.58" fill="#f7802a"/><circle cx="198.6" cy="201.2" r="2.58" fill="#f7802a"/><circle cx="217.2" cy="201.9" r="2.58" fill="#d4ea82"/><circle cx="232.8" cy="189.3" r="2.58" fill="#d4ea82"/><circle cx="234.3" cy="197.1" r="2.58" fill="#d4ea82"/><circle cx="258.5" cy="114.9" r="2.58" fill="#d4ea82"/><circle cx="243.8" cy="120.7" r="2.58" fill="#8cc4ac"/><circle cx="243.5" cy="124.0" r="2.58" fill="#d4ea82"/><circle cx="260.5" cy="126.7" r="2.58" fill="#f7802a"/><circle cx="273.7" cy="122.8" r="2.58" fill="#fdcf4c"/><circle cx="286.0" cy="127.3" r="2.58" fill="#ec1a22"/><circle cx="289.6" cy="131.9" r="2.58" fill="#fdcf4c"/><circle cx="245.3" cy="140.4" r="2.58" fill="#8cc4ac"/><circle cx="244.9" cy="146.5" r="2.58" fill="#8cc4ac"/><circle cx="253.5" cy="144.7" r="2.58" fill="#d4ea82"/><circle cx="280.2" cy="141.3" r="2.58" fill="#f7802a"/><circle cx="285.2" cy="150.8" r="2.58" fill="#f7802a"/><circle cx="269.7" cy="154.0" r="2.58" fill="#ec1a22"/><circle cx="253.5" cy="156.6" r="2.58" fill="#d4ea82"/><circle cx="280.7" cy="159.6" r="2.58" fill="#fdcf4c"/><circle cx="302.4" cy="163.7" r="2.58" fill="#d4ea82"/><circle cx="213.0" cy="57.9" r="2.58" fill="#d4ea82"/><circle cx="189.9" cy="67.3" r="2.58" fill="#ec1a22"/><circle cx="201.1" cy="67.2" r="2.58" fill="#fdcf4c"/><circle cx="213.3" cy="70.2" r="2.58" fill="#fdcf4c"/><circle cx="241.9" cy="49.4" r="2.58" fill="#fdcf4c"/><circle cx="234.4" cy="85.4" r="2.58" fill="#2a8ccd"/><circle cx="224.0" cy="82.0" r="2.58" fill="#fdcf4c"/><circle cx="222.6" cy="85.0" r="2.58" fill="#f7802a"/><circle cx="189.0" cy="82.3" r="2.58" fill="#8cc4ac"/><circle cx="193.7" cy="80.2" r="2.58" fill="#fdcf4c"/><circle cx="201.6" cy="82.5" r="2.58" fill="#8cc4ac"/><circle cx="172.6" cy="90.2" r="2.58" fill="#fdcf4c"/><circle cx="182.9" cy="89.9" r="2.58" fill="#ec1a22"/><circle cx="174.6" cy="98.7" r="2.58" fill="#fdcf4c"/><circle cx="180.2" cy="109.2" r="2.58" fill="#d4ea82"/><circle cx="239.1" cy="117.4" r="2.58" fill="#8cc4ac"/><circle cx="174.4" cy="119.3" r="2.58" fill="#8cc4ac"/><circle cx="197.0" cy="43.8" r="2.58" fill="#8cc4ac"/><circle cx="162.7" cy="94.0" r="2.58" fill="#ec1a22"/><circle cx="146.1" cy="100.1" r="2.58" fill="#fdcf4c"/><circle cx="134.3" cy="103.0" r="2.58" fill="#8cc4ac"/><circle cx="153.7" cy="115.1" r="2.58" fill="#ec1a22"/><circle cx="144.3" cy="120.6" r="2.58" fill="#f7802a"/><circle cx="38.5" cy="207.6" r="2.58" fill="#d4ea82"/><circle cx="49.0" cy="210.0" r="2.58" fill="#d4ea82"/><circle cx="59.9" cy="209.7" r="2.58" fill="#d4ea82"/><circle cx="78.7" cy="210.2" r="2.58" fill="#d4ea82"/><circle cx="62.3" cy="215.8" r="2.58" fill="#d4ea82"/><circle cx="72.7" cy="215.9" r="2.58" fill="#d4ea82"/><circle cx="77.2" cy="221.7" r="2.58" fill="#d4ea82"/><circle cx="35.2" cy="221.0" r="2.58" fill="#8cc4ac"/><circle cx="23.8" cy="226.1" r="2.58" fill="#d4ea82"/><circle cx="28.1" cy="232.2" r="2.58" fill="#d4ea82"/><circle cx="61.9" cy="226.3" r="2.58" fill="#d4ea82"/><circle cx="55.1" cy="234.9" r="2.58" fill="#fdcf4c"/><circle cx="71.7" cy="232.9" r="2.58" fill="#d4ea82"/><circle cx="76.3" cy="239.6" r="2.58" fill="#d4ea82"/><circle cx="92.4" cy="250.4" r="2.58" fill="#d4ea82"/><circle cx="71.7" cy="264.2" r="2.58" fill="#8cc4ac"/><circle cx="95.9" cy="206.4" r="2.58" fill="#8cc4ac"/><circle cx="94.1" cy="211.2" r="2.58" fill="#8cc4ac"/><circle cx="108.4" cy="207.9" r="2.58" fill="#8cc4ac"/><circle cx="111.5" cy="210.2" r="2.58" fill="#f7802a"/><circle cx="103.1" cy="213.8" r="2.58" fill="#8cc4ac"/><circle cx="109.9" cy="214.0" r="2.58" fill="#d4ea82"/><circle cx="108.8" cy="216.7" r="2.58" fill="#8cc4ac"/><circle cx="102.7" cy="217.1" r="2.58" fill="#fdcf4c"/><circle cx="104.7" cy="221.0" r="2.58" fill="#d4ea82"/><circle cx="98.4" cy="239.3" r="2.58" fill="#f7802a"/><circle cx="165.9" cy="204.0" r="2.58" fill="#f7802a"/><circle cx="166.1" cy="207.1" r="2.58" fill="#f7802a"/><circle cx="166.5" cy="253.1" r="2.58" fill="#d4ea82"/><circle cx="156.5" cy="258.3" r="2.58" fill="#fdcf4c"/><circle cx="149.8" cy="271.6" r="2.58" fill="#d4ea82"/><circle cx="168.8" cy="207.3" r="2.58" fill="#f7802a"/><circle cx="171.7" cy="207.3" r="2.58" fill="#ec1a22"/><circle cx="175.0" cy="207.3" r="2.58" fill="#f7802a"/><circle cx="169.1" cy="211.8" r="2.58" fill="#d4ea82"/><circle cx="175.8" cy="212.8" r="2.58" fill="#f7802a"/><circle cx="186.6" cy="208.1" r="2.58" fill="#d4ea82"/><circle cx="186.0" cy="213.2" r="2.58" fill="#fdcf4c"/><circle cx="176.4" cy="218.2" r="2.58" fill="#d4ea82"/><circle cx="181.5" cy="223.4" r="2.58" fill="#8cc4ac"/><circle cx="229.4" cy="214.0" r="2.58" fill="#8cc4ac"/><circle cx="218.7" cy="224.3" r="2.58" fill="#d4ea82"/><circle cx="171.4" cy="237.6" r="2.58" fill="#2a8ccd"/><circle cx="190.3" cy="236.3" r="2.58" fill="#fdcf4c"/><circle cx="187.3" cy="239.3" r="2.58" fill="#8cc4ac"/><circle cx="197.1" cy="242.3" r="2.58" fill="#d4ea82"/><circle cx="218.3" cy="239.3" r="2.58" fill="#8cc4ac"/><circle cx="222.8" cy="250.1" r="2.58" fill="#d4ea82"/><circle cx="179.4" cy="254.2" r="2.58" fill="#fdcf4c"/><circle cx="199.5" cy="260.3" r="2.58" fill="#f7802a"/><circle cx="187.8" cy="261.9" r="2.58" fill="#8cc4ac"/><circle cx="176.7" cy="266.2" r="2.58" fill="#d4ea82"/><circle cx="187.2" cy="274.4" r="2.58" fill="#f7802a"/><circle cx="290.4" cy="180.5" r="2.58" fill="#f7802a"/><circle cx="269.0" cy="188.7" r="2.58" fill="#f7802a"/><circle cx="254.7" cy="194.9" r="2.58" fill="#d4ea82"/><circle cx="276.9" cy="204.1" r="2.58" fill="#f7802a"/><circle cx="264.1" cy="208.4" r="2.58" fill="#d4ea82"/><circle cx="269.4" cy="213.1" r="2.58" fill="#8cc4ac"/><circle cx="254.4" cy="213.3" r="2.58" fill="#d4ea82"/><circle cx="258.7" cy="213.3" r="2.58" fill="#d4ea82"/><circle cx="262.6" cy="214.9" r="2.58" fill="#d4ea82"/><circle cx="259.6" cy="218.4" r="2.58" fill="#8cc4ac"/><circle cx="262.2" cy="222.5" r="2.58" fill="#8cc4ac"/><circle cx="253.5" cy="221.1" r="2.58" fill="#f7802a"/><circle cx="260.5" cy="225.6" r="2.58" fill="#fdcf4c"/><circle cx="264.9" cy="225.6" r="2.58" fill="#f7802a"/><circle cx="264.3" cy="229.5" r="2.58" fill="#f7802a"/><circle cx="259.9" cy="231.0" r="2.58" fill="#fdcf4c"/><circle cx="252.9" cy="229.2" r="2.58" fill="#d4ea82"/><circle cx="240.3" cy="228.1" r="2.58" fill="#f7802a"/><circle cx="245.6" cy="230.7" r="2.58" fill="#d4ea82"/><circle cx="239.5" cy="235.0" r="2.58" fill="#8cc4ac"/><circle cx="244.7" cy="239.7" r="2.58" fill="#d4ea82"/><circle cx="157.0" cy="278.7" r="2.58" fill="#fdcf4c"/><circle cx="170.1" cy="280.8" r="2.58" fill="#fdcf4c"/><circle cx="172.8" cy="290.2" r="2.58" fill="#d4ea82"/><circle cx="178.3" cy="289.0" r="2.58" fill="#d4ea82"/><circle cx="176.7" cy="294.0" r="2.58" fill="#ec1a22"/><circle cx="163.1" cy="295.2" r="2.58" fill="#fdcf4c"/><circle cx="169.1" cy="296.4" r="2.58" fill="#d4ea82"/><circle cx="193.7" cy="289.3" r="2.58" fill="#d4ea82"/><circle cx="197.8" cy="288.0" r="2.58" fill="#d4ea82"/><circle cx="206.5" cy="285.8" r="2.58" fill="#8cc4ac"/><circle cx="163.2" cy="306.3" r="2.58" fill="#d4ea82"/><circle cx="159.0" cy="307.7" r="2.58" fill="#d4ea82"/><circle cx="155.6" cy="310.3" r="2.58" fill="#fdcf4c"/><circle cx="142.7" cy="317.4" r="2.58" fill="#8cc4ac"/><circle cx="146.1" cy="317.4" r="2.58" fill="#d4ea82"/><circle cx="145.2" cy="321.2" r="2.58" fill="#8cc4ac"/></g>
</g>
<text x="610.23" y="264.7" font-size="8.5" font-weight="bold" fill="#222">MBC (g/kg)</text>
<circle cx="614.7" cy="272.30" r="2.5" fill="#2a8ccd" stroke="#262626" stroke-width="0.7"/>
<text x="621.37" y="275.30" font-size="8.4" font-weight="bold" fill="#222">0.01 - 0.05</text>
<circle cx="614.7" cy="281.80" r="2.5" fill="#8cc4ac" stroke="#262626" stroke-width="0.7"/>
<text x="621.37" y="284.80" font-size="8.4" font-weight="bold" fill="#222">0.06 - 0.10</text>
<circle cx="614.7" cy="291.30" r="2.5" fill="#d4ea82" stroke="#262626" stroke-width="0.7"/>
<text x="621.37" y="294.30" font-size="8.4" font-weight="bold" fill="#222">0.11 - 0.15</text>
<circle cx="614.7" cy="300.80" r="2.5" fill="#fdcf4c" stroke="#262626" stroke-width="0.7"/>
<text x="621.37" y="303.80" font-size="8.4" font-weight="bold" fill="#222">0.16 - 0.20</text>
<circle cx="614.7" cy="310.30" r="2.5" fill="#f7802a" stroke="#262626" stroke-width="0.7"/>
<text x="621.37" y="313.30" font-size="8.4" font-weight="bold" fill="#222">0.21 - 0.30</text>
<circle cx="614.7" cy="319.80" r="2.5" fill="#ec1a22" stroke="#262626" stroke-width="0.7"/>
<text x="621.37" y="322.80" font-size="8.4" font-weight="bold" fill="#222">0.31 - 0.54</text>
<rect x="0.5" y="350.2" width="333.0" height="331.09999999999997" fill="#fff"/>
<rect x="0.5" y="350.2" width="333.0" height="30.100000000000023" fill="#d9d9d9"/>
<line x1="0.5" y1="380.3" x2="333.5" y2="380.3" stroke="#6a6a6a" stroke-width="1.4"/>
<rect x="0.5" y="350.2" width="333.0" height="331.09999999999997" fill="none" stroke="#404040" stroke-width="1.15"/>
<text x="48.45" y="370.6" font-size="14.2" font-weight="bold" fill="#111">Microbial necromass carbon (MNC)</text>
<g transform="translate(-0.5,346.8)">
<use href="#map"/>
<g stroke="#262626" stroke-width="0.85"><circle cx="121.2" cy="136.0" r="2.58" fill="#8cc4ac"/><circle cx="125.1" cy="137.1" r="2.58" fill="#8cc4ac"/><circle cx="130.8" cy="132.5" r="2.58" fill="#d4ea82"/><circle cx="134.4" cy="134.1" r="2.58" fill="#8cc4ac"/><circle cx="128.6" cy="137.4" r="2.58" fill="#fdcf4c"/><circle cx="133.5" cy="137.4" r="2.58" fill="#d4ea82"/><circle cx="130.3" cy="139.7" r="2.58" fill="#d4ea82"/><circle cx="130.3" cy="142.9" r="2.58" fill="#d4ea82"/><circle cx="122.4" cy="143.0" r="2.58" fill="#8cc4ac"/><circle cx="124.1" cy="146.0" r="2.58" fill="#8cc4ac"/><circle cx="126.8" cy="144.0" r="2.58" fill="#8cc4ac"/><circle cx="140.2" cy="139.9" r="2.58" fill="#d4ea82"/><circle cx="147.9" cy="138.4" r="2.58" fill="#d4ea82"/><circle cx="154.8" cy="138.0" r="2.58" fill="#d4ea82"/><circle cx="153.5" cy="148.1" r="2.58" fill="#8cc4ac"/><circle cx="152.0" cy="124.2" r="2.58" fill="#8cc4ac"/><circle cx="192.5" cy="91.1" r="2.58" fill="#d4ea82"/><circle cx="201.1" cy="93.9" r="2.58" fill="#fdcf4c"/><circle cx="203.2" cy="95.4" r="2.58" fill="#fdcf4c"/><circle cx="206.8" cy="95.0" r="2.58" fill="#8cc4ac"/><circle cx="201.4" cy="98.0" r="2.58" fill="#fdcf4c"/><circle cx="201.4" cy="101.3" r="2.58" fill="#f7802a"/><circle cx="208.3" cy="101.1" r="2.58" fill="#f7802a"/><circle cx="216.0" cy="101.6" r="2.58" fill="#fdcf4c"/><circle cx="212.2" cy="105.3" r="2.58" fill="#d4ea82"/><circle cx="217.5" cy="106.3" r="2.58" fill="#fdcf4c"/><circle cx="221.1" cy="108.2" r="2.58" fill="#d4ea82"/><circle cx="202.4" cy="107.0" r="2.58" fill="#fdcf4c"/><circle cx="207.2" cy="110.7" r="2.58" fill="#d4ea82"/><circle cx="213.2" cy="110.3" r="2.58" fill="#f7802a"/><circle cx="183.4" cy="98.3" r="2.58" fill="#d4ea82"/><circle cx="187.0" cy="99.7" r="2.58" fill="#d4ea82"/><circle cx="229.9" cy="100.7" r="2.58" fill="#d4ea82"/><circle cx="229.9" cy="88.5" r="2.58" fill="#d4ea82"/><circle cx="195.4" cy="113.3" r="2.58" fill="#d4ea82"/><circle cx="197.6" cy="116.8" r="2.58" fill="#d4ea82"/><circle cx="207.5" cy="116.2" r="2.58" fill="#fdcf4c"/><circle cx="210.2" cy="119.5" r="2.58" fill="#f7802a"/><circle cx="218.2" cy="118.6" r="2.58" fill="#fdcf4c"/><circle cx="219.7" cy="122.1" r="2.58" fill="#fdcf4c"/><circle cx="214.2" cy="123.1" r="2.58" fill="#f7802a"/><circle cx="226.2" cy="115.5" r="2.58" fill="#ec1a22"/><circle cx="226.2" cy="120.6" r="2.58" fill="#d4ea82"/><circle cx="226.8" cy="123.9" r="2.58" fill="#fdcf4c"/><circle cx="224.2" cy="126.1" r="2.58" fill="#8cc4ac"/><circle cx="227.7" cy="129.7" r="2.58" fill="#8cc4ac"/><circle cx="226.7" cy="132.8" r="2.58" fill="#d4ea82"/><circle cx="229.9" cy="133.6" r="2.58" fill="#fdcf4c"/><circle cx="232.8" cy="114.4" r="2.58" fill="#8cc4ac"/><circle cx="192.9" cy="123.1" r="2.58" fill="#8cc4ac"/><circle cx="197.0" cy="122.4" r="2.58" fill="#8cc4ac"/><circle cx="201.7" cy="122.1" r="2.58" fill="#fdcf4c"/><circle cx="185.0" cy="126.8" r="2.58" fill="#8cc4ac"/><circle cx="190.5" cy="128.5" r="2.58" fill="#8cc4ac"/><circle cx="196.7" cy="127.4" r="2.58" fill="#fdcf4c"/><circle cx="202.2" cy="129.5" r="2.58" fill="#fdcf4c"/><circle cx="206.0" cy="128.6" r="2.58" fill="#fdcf4c"/><circle cx="205.5" cy="131.6" r="2.58" fill="#fdcf4c"/><circle cx="210.2" cy="132.1" r="2.58" fill="#8cc4ac"/><circle cx="213.4" cy="127.9" r="2.58" fill="#8cc4ac"/><circle cx="216.5" cy="130.9" r="2.58" fill="#d4ea82"/><circle cx="218.7" cy="133.4" r="2.58" fill="#fdcf4c"/><circle cx="221.1" cy="137.6" r="2.58" fill="#f7802a"/><circle cx="193.0" cy="136.4" r="2.58" fill="#8cc4ac"/><circle cx="208.6" cy="138.4" r="2.58" fill="#fdcf4c"/><circle cx="213.5" cy="141.3" r="2.58" fill="#f7802a"/><circle cx="200.3" cy="140.6" r="2.58" fill="#fdcf4c"/><circle cx="203.1" cy="140.4" r="2.58" fill="#8cc4ac"/><circle cx="197.6" cy="142.6" r="2.58" fill="#8cc4ac"/><circle cx="189.0" cy="142.5" r="2.58" fill="#d4ea82"/><circle cx="190.7" cy="146.0" r="2.58" fill="#d4ea82"/><circle cx="187.9" cy="150.7" r="2.58" fill="#d4ea82"/><circle cx="193.7" cy="149.4" r="2.58" fill="#f7802a"/><circle cx="199.1" cy="149.9" r="2.58" fill="#d4ea82"/><circle cx="204.2" cy="153.5" r="2.58" fill="#d4ea82"/><circle cx="207.3" cy="149.4" r="2.58" fill="#d4ea82"/><circle cx="214.9" cy="146.0" r="2.58" fill="#f7802a"/><circle cx="221.1" cy="147.1" r="2.58" fill="#2a8ccd"/><circle cx="216.5" cy="149.6" r="2.58" fill="#d4ea82"/><circle cx="224.2" cy="150.7" r="2.58" fill="#8cc4ac"/><circle cx="226.0" cy="152.8" r="2.58" fill="#fdcf4c"/><circle cx="218.9" cy="153.8" r="2.58" fill="#fdcf4c"/><circle cx="221.8" cy="156.6" r="2.58" fill="#f7802a"/><circle cx="220.9" cy="159.7" r="2.58" fill="#fdcf4c"/><circle cx="229.3" cy="145.3" r="2.58" fill="#d4ea82"/><circle cx="231.8" cy="158.9" r="2.58" fill="#d4ea82"/><circle cx="229.0" cy="162.8" r="2.58" fill="#d4ea82"/><circle cx="230.5" cy="165.4" r="2.58" fill="#d4ea82"/><circle cx="223.9" cy="165.4" r="2.58" fill="#d4ea82"/><circle cx="220.2" cy="165.1" r="2.58" fill="#d4ea82"/><circle cx="226.4" cy="169.7" r="2.58" fill="#d4ea82"/><circle cx="195.3" cy="156.4" r="2.58" fill="#8cc4ac"/><circle cx="195.7" cy="160.8" r="2.58" fill="#d4ea82"/><circle cx="199.5" cy="163.9" r="2.58" fill="#d4ea82"/><circle cx="203.3" cy="162.3" r="2.58" fill="#d4ea82"/><circle cx="206.5" cy="161.3" r="2.58" fill="#d4ea82"/><circle cx="211.0" cy="161.0" r="2.58" fill="#f7802a"/><circle cx="192.1" cy="165.7" r="2.58" fill="#d4ea82"/><circle cx="196.5" cy="168.0" r="2.58" fill="#fdcf4c"/><circle cx="200.9" cy="168.5" r="2.58" fill="#fdcf4c"/><circle cx="207.3" cy="164.6" r="2.58" fill="#8cc4ac"/><circle cx="208.8" cy="168.0" r="2.58" fill="#d4ea82"/><circle cx="212.8" cy="165.1" r="2.58" fill="#8cc4ac"/><circle cx="211.7" cy="170.1" r="2.58" fill="#8cc4ac"/><circle cx="204.6" cy="171.5" r="2.58" fill="#f7802a"/><circle cx="192.1" cy="171.3" r="2.58" fill="#d4ea82"/><circle cx="196.6" cy="173.6" r="2.58" fill="#f7802a"/><circle cx="200.3" cy="172.2" r="2.58" fill="#fdcf4c"/><circle cx="185.6" cy="169.1" r="2.58" fill="#d4ea82"/><circle cx="208.4" cy="174.1" r="2.58" fill="#fdcf4c"/><circle cx="226.0" cy="174.4" r="2.58" fill="#fdcf4c"/><circle cx="231.1" cy="173.0" r="2.58" fill="#f7802a"/><circle cx="245.1" cy="55.6" r="2.58" fill="#f7802a"/><circle cx="238.7" cy="71.1" r="2.58" fill="#d4ea82"/><circle cx="248.9" cy="72.8" r="2.58" fill="#f7802a"/><circle cx="240.5" cy="79.0" r="2.58" fill="#fdcf4c"/><circle cx="240.9" cy="86.6" r="2.58" fill="#f7802a"/><circle cx="254.3" cy="87.9" r="2.58" fill="#2a8ccd"/><circle cx="248.6" cy="97.4" r="2.58" fill="#f7802a"/><circle cx="259.8" cy="101.7" r="2.58" fill="#d4ea82"/><circle cx="273.2" cy="94.5" r="2.58" fill="#ec1a22"/><circle cx="44.3" cy="151.0" r="2.58" fill="#8cc4ac"/><circle cx="53.1" cy="158.2" r="2.58" fill="#8cc4ac"/><circle cx="60.4" cy="168.6" r="2.58" fill="#8cc4ac"/><circle cx="41.0" cy="167.8" r="2.58" fill="#8cc4ac"/><circle cx="42.0" cy="183.7" r="2.58" fill="#8cc4ac"/><circle cx="55.1" cy="185.4" r="2.58" fill="#8cc4ac"/><circle cx="61.9" cy="188.3" r="2.58" fill="#8cc4ac"/><circle cx="67.4" cy="185.4" r="2.58" fill="#d4ea82"/><circle cx="69.3" cy="179.0" r="2.58" fill="#d4ea82"/><circle cx="74.8" cy="175.4" r="2.58" fill="#d4ea82"/><circle cx="77.2" cy="179.2" r="2.58" fill="#8cc4ac"/><circle cx="78.3" cy="172.5" r="2.58" fill="#8cc4ac"/><circle cx="80.7" cy="171.3" r="2.58" fill="#d4ea82"/><circle cx="84.8" cy="172.5" r="2.58" fill="#8cc4ac"/><circle cx="84.2" cy="168.4" r="2.58" fill="#8cc4ac"/><circle cx="85.7" cy="165.1" r="2.58" fill="#8cc4ac"/><circle cx="85.1" cy="158.8" r="2.58" fill="#8cc4ac"/><circle cx="82.4" cy="152.0" r="2.58" fill="#d4ea82"/><circle cx="90.8" cy="184.5" r="2.58" fill="#d4ea82"/><circle cx="72.1" cy="196.7" r="2.58" fill="#8cc4ac"/><circle cx="61.7" cy="197.7" r="2.58" fill="#8cc4ac"/><circle cx="64.3" cy="202.1" r="2.58" fill="#8cc4ac"/><circle cx="83.2" cy="201.2" r="2.58" fill="#d4ea82"/><circle cx="36.0" cy="199.3" r="2.58" fill="#8cc4ac"/><circle cx="105.8" cy="134.4" r="2.58" fill="#d4ea82"/><circle cx="95.3" cy="140.0" r="2.58" fill="#d4ea82"/><circle cx="166.3" cy="145.5" r="2.58" fill="#d4ea82"/><circle cx="168.1" cy="151.7" r="2.58" fill="#8cc4ac"/><circle cx="164.5" cy="126.0" r="2.58" fill="#2a8ccd"/><circle cx="117.6" cy="157.6" r="2.58" fill="#fdcf4c"/><circle cx="121.7" cy="155.7" r="2.58" fill="#8cc4ac"/><circle cx="119.9" cy="161.6" r="2.58" fill="#2a8ccd"/><circle cx="95.3" cy="164.3" r="2.58" fill="#8cc4ac"/><circle cx="114.4" cy="168.4" r="2.58" fill="#8cc4ac"/><circle cx="93.8" cy="172.7" r="2.58" fill="#8cc4ac"/><circle cx="99.1" cy="178.7" r="2.58" fill="#fdcf4c"/><circle cx="115.8" cy="177.2" r="2.58" fill="#8cc4ac"/><circle cx="139.0" cy="166.6" r="2.58" fill="#d4ea82"/><circle cx="161.3" cy="166.6" r="2.58" fill="#8cc4ac"/><circle cx="145.1" cy="171.9" r="2.58" fill="#8cc4ac"/><circle cx="147.1" cy="176.3" r="2.58" fill="#8cc4ac"/><circle cx="140.2" cy="178.4" r="2.58" fill="#8cc4ac"/><circle cx="157.7" cy="173.4" r="2.58" fill="#d4ea82"/><circle cx="161.3" cy="178.1" r="2.58" fill="#8cc4ac"/><circle cx="166.3" cy="184.5" r="2.58" fill="#8cc4ac"/><circle cx="159.6" cy="188.3" r="2.58" fill="#8cc4ac"/><circle cx="150.2" cy="181.1" r="2.58" fill="#8cc4ac"/><circle cx="154.7" cy="181.9" r="2.58" fill="#d4ea82"/><circle cx="146.1" cy="185.6" r="2.58" fill="#8cc4ac"/><circle cx="151.6" cy="186.0" r="2.58" fill="#8cc4ac"/><circle cx="145.1" cy="188.9" r="2.58" fill="#8cc4ac"/><circle cx="121.1" cy="186.9" r="2.58" fill="#8cc4ac"/><circle cx="131.1" cy="188.0" r="2.58" fill="#8cc4ac"/><circle cx="134.6" cy="189.3" r="2.58" fill="#8cc4ac"/><circle cx="136.7" cy="194.9" r="2.58" fill="#8cc4ac"/><circle cx="152.0" cy="195.2" r="2.58" fill="#8cc4ac"/><circle cx="160.2" cy="196.3" r="2.58" fill="#8cc4ac"/><circle cx="113.5" cy="193.2" r="2.58" fill="#8cc4ac"/><circle cx="117.8" cy="194.2" r="2.58" fill="#d4ea82"/><circle cx="112.3" cy="198.7" r="2.58" fill="#d4ea82"/><circle cx="109.9" cy="203.5" r="2.58" fill="#fdcf4c"/><circle cx="117.4" cy="202.7" r="2.58" fill="#d4ea82"/><circle cx="100.8" cy="201.2" r="2.58" fill="#d4ea82"/><circle cx="150.4" cy="202.4" r="2.58" fill="#8cc4ac"/><circle cx="237.7" cy="133.2" r="2.58" fill="#fdcf4c"/><circle cx="171.1" cy="141.7" r="2.58" fill="#d4ea82"/><circle cx="182.0" cy="146.1" r="2.58" fill="#8cc4ac"/><circle cx="238.3" cy="148.2" r="2.58" fill="#8cc4ac"/><circle cx="170.5" cy="160.2" r="2.58" fill="#d4ea82"/><circle cx="178.8" cy="164.9" r="2.58" fill="#d4ea82"/><circle cx="179.3" cy="175.4" r="2.58" fill="#d4ea82"/><circle cx="229.5" cy="175.4" r="2.58" fill="#fdcf4c"/><circle cx="242.1" cy="160.8" r="2.58" fill="#8cc4ac"/><circle cx="242.8" cy="180.2" r="2.58" fill="#8cc4ac"/><circle cx="189.0" cy="179.5" r="2.58" fill="#8cc4ac"/><circle cx="196.0" cy="180.5" r="2.58" fill="#fdcf4c"/><circle cx="187.9" cy="185.4" r="2.58" fill="#d4ea82"/><circle cx="190.8" cy="186.0" r="2.58" fill="#fdcf4c"/><circle cx="212.4" cy="183.1" r="2.58" fill="#8cc4ac"/><circle cx="173.4" cy="181.3" r="2.58" fill="#d4ea82"/><circle cx="170.6" cy="192.8" r="2.58" fill="#f7802a"/><circle cx="171.4" cy="196.5" r="2.58" fill="#8cc4ac"/><circle cx="183.5" cy="197.9" r="2.58" fill="#f7802a"/><circle cx="176.1" cy="201.2" r="2.58" fill="#8cc4ac"/><circle cx="198.6" cy="201.2" r="2.58" fill="#8cc4ac"/><circle cx="217.2" cy="201.9" r="2.58" fill="#fdcf4c"/><circle cx="232.8" cy="189.3" r="2.58" fill="#fdcf4c"/><circle cx="234.3" cy="197.1" r="2.58" fill="#f7802a"/><circle cx="258.5" cy="114.9" r="2.58" fill="#f7802a"/><circle cx="243.8" cy="120.7" r="2.58" fill="#fdcf4c"/><circle cx="243.5" cy="124.0" r="2.58" fill="#fdcf4c"/><circle cx="260.5" cy="126.7" r="2.58" fill="#fdcf4c"/><circle cx="273.7" cy="122.8" r="2.58" fill="#f7802a"/><circle cx="286.0" cy="127.3" r="2.58" fill="#ec1a22"/><circle cx="289.6" cy="131.9" r="2.58" fill="#f7802a"/><circle cx="245.3" cy="140.4" r="2.58" fill="#d4ea82"/><circle cx="244.9" cy="146.5" r="2.58" fill="#fdcf4c"/><circle cx="253.5" cy="144.7" r="2.58" fill="#d4ea82"/><circle cx="280.2" cy="141.3" r="2.58" fill="#d4ea82"/><circle cx="285.2" cy="150.8" r="2.58" fill="#ec1a22"/><circle cx="269.7" cy="154.0" r="2.58" fill="#f7802a"/><circle cx="253.5" cy="156.6" r="2.58" fill="#fdcf4c"/><circle cx="280.7" cy="159.6" r="2.58" fill="#f7802a"/><circle cx="302.4" cy="163.7" r="2.58" fill="#8cc4ac"/><circle cx="213.0" cy="57.9" r="2.58" fill="#f7802a"/><circle cx="189.9" cy="67.3" r="2.58" fill="#fdcf4c"/><circle cx="201.1" cy="67.2" r="2.58" fill="#d4ea82"/><circle cx="213.3" cy="70.2" r="2.58" fill="#fdcf4c"/><circle cx="241.9" cy="49.4" r="2.58" fill="#f7802a"/><circle cx="234.4" cy="85.4" r="2.58" fill="#d4ea82"/><circle cx="224.0" cy="82.0" r="2.58" fill="#d4ea82"/><circle cx="222.6" cy="85.0" r="2.58" fill="#d4ea82"/><circle cx="189.0" cy="82.3" r="2.58" fill="#d4ea82"/><circle cx="193.7" cy="80.2" r="2.58" fill="#8cc4ac"/><circle cx="201.6" cy="82.5" r="2.58" fill="#fdcf4c"/><circle cx="172.6" cy="90.2" r="2.58" fill="#8cc4ac"/><circle cx="182.9" cy="89.9" r="2.58" fill="#d4ea82"/><circle cx="174.6" cy="98.7" r="2.58" fill="#d4ea82"/><circle cx="180.2" cy="109.2" r="2.58" fill="#8cc4ac"/><circle cx="239.1" cy="117.4" r="2.58" fill="#d4ea82"/><circle cx="174.4" cy="119.3" r="2.58" fill="#8cc4ac"/><circle cx="197.0" cy="43.8" r="2.58" fill="#f7802a"/><circle cx="162.7" cy="94.0" r="2.58" fill="#8cc4ac"/><circle cx="146.1" cy="100.1" r="2.58" fill="#8cc4ac"/><circle cx="134.3" cy="103.0" r="2.58" fill="#8cc4ac"/><circle cx="153.7" cy="115.1" r="2.58" fill="#8cc4ac"/><circle cx="144.3" cy="120.6" r="2.58" fill="#d4ea82"/><circle cx="38.5" cy="207.6" r="2.58" fill="#8cc4ac"/><circle cx="49.0" cy="210.0" r="2.58" fill="#d4ea82"/><circle cx="59.9" cy="209.7" r="2.58" fill="#8cc4ac"/><circle cx="78.7" cy="210.2" r="2.58" fill="#8cc4ac"/><circle cx="62.3" cy="215.8" r="2.58" fill="#8cc4ac"/><circle cx="72.7" cy="215.9" r="2.58" fill="#fdcf4c"/><circle cx="77.2" cy="221.7" r="2.58" fill="#d4ea82"/><circle cx="35.2" cy="221.0" r="2.58" fill="#8cc4ac"/><circle cx="23.8" cy="226.1" r="2.58" fill="#8cc4ac"/><circle cx="28.1" cy="232.2" r="2.58" fill="#8cc4ac"/><circle cx="61.9" cy="226.3" r="2.58" fill="#8cc4ac"/><circle cx="55.1" cy="234.9" r="2.58" fill="#d4ea82"/><circle cx="71.7" cy="232.9" r="2.58" fill="#8cc4ac"/><circle cx="76.3" cy="239.6" r="2.58" fill="#8cc4ac"/><circle cx="92.4" cy="250.4" r="2.58" fill="#d4ea82"/><circle cx="71.7" cy="264.2" r="2.58" fill="#d4ea82"/><circle cx="95.9" cy="206.4" r="2.58" fill="#8cc4ac"/><circle cx="94.1" cy="211.2" r="2.58" fill="#d4ea82"/><circle cx="108.4" cy="207.9" r="2.58" fill="#d4ea82"/><circle cx="111.5" cy="210.2" r="2.58" fill="#8cc4ac"/><circle cx="103.1" cy="213.8" r="2.58" fill="#8cc4ac"/><circle cx="109.9" cy="214.0" r="2.58" fill="#d4ea82"/><circle cx="102.7" cy="217.1" r="2.58" fill="#fdcf4c"/><circle cx="104.7" cy="221.0" r="2.58" fill="#d4ea82"/><circle cx="98.4" cy="239.3" r="2.58" fill="#d4ea82"/><circle cx="165.9" cy="204.0" r="2.58" fill="#8cc4ac"/><circle cx="166.1" cy="207.1" r="2.58" fill="#8cc4ac"/><circle cx="166.5" cy="253.1" r="2.58" fill="#8cc4ac"/><circle cx="156.5" cy="258.3" r="2.58" fill="#8cc4ac"/><circle cx="149.8" cy="271.6" r="2.58" fill="#2a8ccd"/><circle cx="168.8" cy="207.3" r="2.58" fill="#f7802a"/><circle cx="171.7" cy="207.3" r="2.58" fill="#d4ea82"/><circle cx="175.0" cy="207.3" r="2.58" fill="#8cc4ac"/><circle cx="169.1" cy="211.8" r="2.58" fill="#8cc4ac"/><circle cx="175.8" cy="212.8" r="2.58" fill="#d4ea82"/><circle cx="186.6" cy="208.1" r="2.58" fill="#8cc4ac"/><circle cx="186.0" cy="213.2" r="2.58" fill="#8cc4ac"/><circle cx="176.4" cy="218.2" r="2.58" fill="#8cc4ac"/><circle cx="181.5" cy="223.4" r="2.58" fill="#d4ea82"/><circle cx="229.4" cy="214.0" r="2.58" fill="#d4ea82"/><circle cx="218.7" cy="224.3" r="2.58" fill="#d4ea82"/><circle cx="173.8" cy="231.4" r="2.58" fill="#8cc4ac"/><circle cx="171.4" cy="237.6" r="2.58" fill="#8cc4ac"/><circle cx="190.3" cy="236.3" r="2.58" fill="#8cc4ac"/><circle cx="187.3" cy="239.3" r="2.58" fill="#fdcf4c"/><circle cx="197.1" cy="242.3" r="2.58" fill="#fdcf4c"/><circle cx="218.3" cy="239.3" r="2.58" fill="#8cc4ac"/><circle cx="222.8" cy="250.1" r="2.58" fill="#8cc4ac"/><circle cx="179.4" cy="254.2" r="2.58" fill="#8cc4ac"/><circle cx="199.5" cy="260.3" r="2.58" fill="#d4ea82"/><circle cx="187.8" cy="261.9" r="2.58" fill="#8cc4ac"/><circle cx="176.7" cy="266.2" r="2.58" fill="#8cc4ac"/><circle cx="187.2" cy="274.4" r="2.58" fill="#8cc4ac"/><circle cx="290.4" cy="180.5" r="2.58" fill="#fdcf4c"/><circle cx="269.0" cy="188.7" r="2.58" fill="#ec1a22"/><circle cx="254.7" cy="194.9" r="2.58" fill="#d4ea82"/><circle cx="276.9" cy="204.1" r="2.58" fill="#f7802a"/><circle cx="264.1" cy="208.4" r="2.58" fill="#ec1a22"/><circle cx="269.4" cy="213.1" r="2.58" fill="#d4ea82"/><circle cx="254.4" cy="213.3" r="2.58" fill="#f7802a"/><circle cx="258.7" cy="213.3" r="2.58" fill="#fdcf4c"/><circle cx="262.6" cy="214.9" r="2.58" fill="#f7802a"/><circle cx="259.6" cy="218.4" r="2.58" fill="#f7802a"/><circle cx="262.2" cy="222.5" r="2.58" fill="#f7802a"/><circle cx="253.5" cy="221.1" r="2.58" fill="#f7802a"/><circle cx="260.5" cy="225.6" r="2.58" fill="#f7802a"/><circle cx="264.9" cy="225.6" r="2.58" fill="#fdcf4c"/><circle cx="264.3" cy="229.5" r="2.58" fill="#d4ea82"/><circle cx="252.9" cy="229.2" r="2.58" fill="#f7802a"/><circle cx="240.3" cy="228.1" r="2.58" fill="#fdcf4c"/><circle cx="245.6" cy="230.7" r="2.58" fill="#f7802a"/><circle cx="239.5" cy="235.0" r="2.58" fill="#d4ea82"/><circle cx="244.7" cy="239.7" r="2.58" fill="#8cc4ac"/><circle cx="157.0" cy="278.7" r="2.58" fill="#8cc4ac"/><circle cx="170.1" cy="280.8" r="2.58" fill="#d4ea82"/><circle cx="172.8" cy="290.2" r="2.58" fill="#8cc4ac"/><circle cx="178.3" cy="289.0" r="2.58" fill="#d4ea82"/><circle cx="176.7" cy="294.0" r="2.58" fill="#8cc4ac"/><circle cx="163.1" cy="295.2" r="2.58" fill="#8cc4ac"/><circle cx="169.1" cy="296.4" r="2.58" fill="#8cc4ac"/><circle cx="191.3" cy="292.5" r="2.58" fill="#8cc4ac"/><circle cx="193.7" cy="289.3" r="2.58" fill="#8cc4ac"/><circle cx="197.8" cy="288.0" r="2.58" fill="#8cc4ac"/><circle cx="206.5" cy="285.8" r="2.58" fill="#8cc4ac"/><circle cx="163.2" cy="306.3" r="2.58" fill="#8cc4ac"/><circle cx="159.0" cy="307.7" r="2.58" fill="#8cc4ac"/><circle cx="155.6" cy="310.3" r="2.58" fill="#8cc4ac"/><circle cx="142.7" cy="317.4" r="2.58" fill="#8cc4ac"/><circle cx="146.1" cy="317.4" r="2.58" fill="#8cc4ac"/><circle cx="145.2" cy="321.2" r="2.58" fill="#8cc4ac"/></g>
</g>
<text x="258.53" y="613.5" font-size="8.5" font-weight="bold" fill="#222">MNC (g/kg)</text>
<circle cx="263.1" cy="621.00" r="2.5" fill="#2a8ccd" stroke="#262626" stroke-width="0.7"/>
<text x="269.87" y="624.00" font-size="8.4" font-weight="bold" fill="#222">0.98 - 2.00</text>
<circle cx="263.1" cy="630.50" r="2.5" fill="#8cc4ac" stroke="#262626" stroke-width="0.7"/>
<text x="269.91" y="633.50" font-size="8.4" font-weight="bold" fill="#222">2.01 - 4.00</text>
<circle cx="263.1" cy="640.00" r="2.5" fill="#d4ea82" stroke="#262626" stroke-width="0.7"/>
<text x="270.07" y="643.00" font-size="8.4" font-weight="bold" fill="#222">4.01 - 5.00</text>
<circle cx="263.1" cy="649.50" r="2.5" fill="#fdcf4c" stroke="#262626" stroke-width="0.7"/>
<text x="269.94" y="652.50" font-size="8.4" font-weight="bold" fill="#222">5.01 - 6.00</text>
<circle cx="263.1" cy="659.00" r="2.5" fill="#f7802a" stroke="#262626" stroke-width="0.7"/>
<text x="269.89" y="662.00" font-size="8.4" font-weight="bold" fill="#222">6.01 - 8.00</text>
<circle cx="263.1" cy="668.50" r="2.5" fill="#ec1a22" stroke="#262626" stroke-width="0.7"/>
<text x="269.93" y="671.50" font-size="8.4" font-weight="bold" fill="#222">8.01 - 15.20</text>
<rect x="351.5" y="347.7" width="332.95000000000005" height="331.59999999999997" fill="#fff"/>
<rect x="351.5" y="347.7" width="332.95000000000005" height="30.600000000000023" fill="#d9d9d9"/>
<line x1="351.5" y1="378.3" x2="684.45" y2="378.3" stroke="#6a6a6a" stroke-width="1.4"/>
<rect x="351.5" y="347.7" width="332.95000000000005" height="331.59999999999997" fill="none" stroke="#404040" stroke-width="1.15"/>
<text x="480.75" y="368.7" font-size="14.2" font-weight="bold" fill="#111">MNC / SOC</text>
<g transform="translate(353.2,346.85)">
<use href="#map"/>
<g stroke="#262626" stroke-width="0.85"><circle cx="121.2" cy="136.0" r="2.58" fill="#f7802a"/><circle cx="125.1" cy="137.1" r="2.58" fill="#fdcf4c"/><circle cx="130.8" cy="132.5" r="2.58" fill="#8cc4ac"/><circle cx="134.4" cy="134.1" r="2.58" fill="#8cc4ac"/><circle cx="128.6" cy="137.4" r="2.58" fill="#8cc4ac"/><circle cx="130.3" cy="139.7" r="2.58" fill="#8cc4ac"/><circle cx="130.3" cy="142.9" r="2.58" fill="#fdcf4c"/><circle cx="122.4" cy="143.0" r="2.58" fill="#2a8ccd"/><circle cx="124.1" cy="146.0" r="2.58" fill="#8cc4ac"/><circle cx="126.8" cy="144.0" r="2.58" fill="#d4ea82"/><circle cx="140.2" cy="139.9" r="2.58" fill="#fdcf4c"/><circle cx="147.9" cy="138.4" r="2.58" fill="#f7802a"/><circle cx="154.8" cy="138.0" r="2.58" fill="#8cc4ac"/><circle cx="153.5" cy="148.1" r="2.58" fill="#8cc4ac"/><circle cx="152.0" cy="124.2" r="2.58" fill="#2a8ccd"/><circle cx="192.5" cy="91.1" r="2.58" fill="#fdcf4c"/><circle cx="201.1" cy="93.9" r="2.58" fill="#fdcf4c"/><circle cx="203.2" cy="95.4" r="2.58" fill="#2a8ccd"/><circle cx="206.8" cy="95.0" r="2.58" fill="#8cc4ac"/><circle cx="201.4" cy="98.0" r="2.58" fill="#8cc4ac"/><circle cx="201.4" cy="101.3" r="2.58" fill="#f7802a"/><circle cx="208.3" cy="101.1" r="2.58" fill="#fdcf4c"/><circle cx="216.0" cy="101.6" r="2.58" fill="#ec1a22"/><circle cx="212.2" cy="105.3" r="2.58" fill="#2a8ccd"/><circle cx="217.5" cy="106.3" r="2.58" fill="#f7802a"/><circle cx="221.1" cy="108.2" r="2.58" fill="#fdcf4c"/><circle cx="202.4" cy="107.0" r="2.58" fill="#f7802a"/><circle cx="207.2" cy="110.7" r="2.58" fill="#8cc4ac"/><circle cx="213.2" cy="110.3" r="2.58" fill="#f7802a"/><circle cx="183.4" cy="98.3" r="2.58" fill="#f7802a"/><circle cx="187.0" cy="99.7" r="2.58" fill="#f7802a"/><circle cx="229.9" cy="100.7" r="2.58" fill="#fdcf4c"/><circle cx="229.9" cy="88.5" r="2.58" fill="#fdcf4c"/><circle cx="195.4" cy="113.3" r="2.58" fill="#d4ea82"/><circle cx="197.6" cy="116.8" r="2.58" fill="#8cc4ac"/><circle cx="207.5" cy="116.2" r="2.58" fill="#f7802a"/><circle cx="210.2" cy="119.5" r="2.58" fill="#ec1a22"/><circle cx="218.2" cy="118.6" r="2.58" fill="#f7802a"/><circle cx="219.7" cy="122.1" r="2.58" fill="#fdcf4c"/><circle cx="214.2" cy="123.1" r="2.58" fill="#f7802a"/><circle cx="226.2" cy="115.5" r="2.58" fill="#f7802a"/><circle cx="226.2" cy="120.6" r="2.58" fill="#fdcf4c"/><circle cx="226.8" cy="123.9" r="2.58" fill="#2a8ccd"/><circle cx="224.2" cy="126.1" r="2.58" fill="#fdcf4c"/><circle cx="227.7" cy="129.7" r="2.58" fill="#2a8ccd"/><circle cx="226.7" cy="132.8" r="2.58" fill="#f7802a"/><circle cx="229.9" cy="133.6" r="2.58" fill="#d4ea82"/><circle cx="232.8" cy="114.4" r="2.58" fill="#8cc4ac"/><circle cx="192.9" cy="123.1" r="2.58" fill="#fdcf4c"/><circle cx="197.0" cy="122.4" r="2.58" fill="#2a8ccd"/><circle cx="201.7" cy="122.1" r="2.58" fill="#fdcf4c"/><circle cx="185.0" cy="126.8" r="2.58" fill="#8cc4ac"/><circle cx="190.5" cy="128.5" r="2.58" fill="#8cc4ac"/><circle cx="196.7" cy="127.4" r="2.58" fill="#fdcf4c"/><circle cx="202.2" cy="129.5" r="2.58" fill="#d4ea82"/><circle cx="206.0" cy="128.6" r="2.58" fill="#fdcf4c"/><circle cx="205.5" cy="131.6" r="2.58" fill="#8cc4ac"/><circle cx="210.2" cy="132.1" r="2.58" fill="#d4ea82"/><circle cx="213.4" cy="127.9" r="2.58" fill="#fdcf4c"/><circle cx="216.5" cy="130.9" r="2.58" fill="#2a8ccd"/><circle cx="218.7" cy="133.4" r="2.58" fill="#d4ea82"/><circle cx="221.1" cy="137.6" r="2.58" fill="#f7802a"/><circle cx="193.0" cy="136.4" r="2.58" fill="#2a8ccd"/><circle cx="208.6" cy="138.4" r="2.58" fill="#d4ea82"/><circle cx="213.5" cy="141.3" r="2.58" fill="#ec1a22"/><circle cx="200.3" cy="140.6" r="2.58" fill="#d4ea82"/><circle cx="203.1" cy="140.4" r="2.58" fill="#fdcf4c"/><circle cx="197.6" cy="142.6" r="2.58" fill="#fdcf4c"/><circle cx="189.0" cy="142.5" r="2.58" fill="#d4ea82"/><circle cx="190.7" cy="146.0" r="2.58" fill="#d4ea82"/><circle cx="187.9" cy="150.7" r="2.58" fill="#d4ea82"/><circle cx="193.7" cy="149.4" r="2.58" fill="#f7802a"/><circle cx="199.1" cy="149.9" r="2.58" fill="#d4ea82"/><circle cx="204.2" cy="153.5" r="2.58" fill="#d4ea82"/><circle cx="207.3" cy="149.4" r="2.58" fill="#fdcf4c"/><circle cx="214.9" cy="146.0" r="2.58" fill="#fdcf4c"/><circle cx="221.1" cy="147.1" r="2.58" fill="#fdcf4c"/><circle cx="216.5" cy="149.6" r="2.58" fill="#8cc4ac"/><circle cx="224.2" cy="150.7" r="2.58" fill="#8cc4ac"/><circle cx="226.0" cy="152.8" r="2.58" fill="#d4ea82"/><circle cx="218.9" cy="153.8" r="2.58" fill="#8cc4ac"/><circle cx="221.8" cy="156.6" r="2.58" fill="#8cc4ac"/><circle cx="220.9" cy="159.7" r="2.58" fill="#d4ea82"/><circle cx="229.3" cy="145.3" r="2.58" fill="#d4ea82"/><circle cx="231.8" cy="158.9" r="2.58" fill="#8cc4ac"/><circle cx="229.0" cy="162.8" r="2.58" fill="#8cc4ac"/><circle cx="230.5" cy="165.4" r="2.58" fill="#fdcf4c"/><circle cx="223.9" cy="165.4" r="2.58" fill="#2a8ccd"/><circle cx="220.2" cy="165.1" r="2.58" fill="#d4ea82"/><circle cx="226.4" cy="169.7" r="2.58" fill="#2a8ccd"/><circle cx="195.3" cy="156.4" r="2.58" fill="#2a8ccd"/><circle cx="195.7" cy="160.8" r="2.58" fill="#8cc4ac"/><circle cx="199.5" cy="163.9" r="2.58" fill="#d4ea82"/><circle cx="203.3" cy="162.3" r="2.58" fill="#8cc4ac"/><circle cx="206.5" cy="161.3" r="2.58" fill="#2a8ccd"/><circle cx="211.0" cy="161.0" r="2.58" fill="#f7802a"/><circle cx="192.1" cy="165.7" r="2.58" fill="#8cc4ac"/><circle cx="196.5" cy="168.0" r="2.58" fill="#d4ea82"/><circle cx="200.9" cy="168.5" r="2.58" fill="#d4ea82"/><circle cx="207.3" cy="164.6" r="2.58" fill="#8cc4ac"/><circle cx="208.8" cy="168.0" r="2.58" fill="#d4ea82"/><circle cx="212.8" cy="165.1" r="2.58" fill="#d4ea82"/><circle cx="211.7" cy="170.1" r="2.58" fill="#2a8ccd"/><circle cx="204.6" cy="171.5" r="2.58" fill="#ec1a22"/><circle cx="192.1" cy="171.3" r="2.58" fill="#d4ea82"/><circle cx="196.6" cy="173.6" r="2.58" fill="#d4ea82"/><circle cx="200.3" cy="172.2" r="2.58" fill="#f7802a"/><circle cx="185.6" cy="169.1" r="2.58" fill="#2a8ccd"/><circle cx="208.4" cy="174.1" r="2.58" fill="#fdcf4c"/><circle cx="226.0" cy="174.4" r="2.58" fill="#d4ea82"/><circle cx="231.1" cy="173.0" r="2.58" fill="#fdcf4c"/><circle cx="245.1" cy="55.6" r="2.58" fill="#8cc4ac"/><circle cx="238.7" cy="71.1" r="2.58" fill="#2a8ccd"/><circle cx="248.9" cy="72.8" r="2.58" fill="#f7802a"/><circle cx="240.5" cy="79.0" r="2.58" fill="#d4ea82"/><circle cx="240.9" cy="86.6" r="2.58" fill="#f7802a"/><circle cx="254.3" cy="87.9" r="2.58" fill="#2a8ccd"/><circle cx="248.6" cy="97.4" r="2.58" fill="#fdcf4c"/><circle cx="259.8" cy="101.7" r="2.58" fill="#8cc4ac"/><circle cx="273.2" cy="94.5" r="2.58" fill="#fdcf4c"/><circle cx="44.3" cy="151.0" r="2.58" fill="#2a8ccd"/><circle cx="53.1" cy="158.2" r="2.58" fill="#2a8ccd"/><circle cx="60.4" cy="168.6" r="2.58" fill="#2a8ccd"/><circle cx="41.0" cy="167.8" r="2.58" fill="#2a8ccd"/><circle cx="42.0" cy="183.7" r="2.58" fill="#8cc4ac"/><circle cx="55.1" cy="185.4" r="2.58" fill="#2a8ccd"/><circle cx="61.9" cy="188.3" r="2.58" fill="#d4ea82"/><circle cx="67.4" cy="185.4" r="2.58" fill="#d4ea82"/><circle cx="69.3" cy="179.0" r="2.58" fill="#fdcf4c"/><circle cx="74.8" cy="175.4" r="2.58" fill="#f7802a"/><circle cx="77.2" cy="179.2" r="2.58" fill="#d4ea82"/><circle cx="78.3" cy="172.5" r="2.58" fill="#8cc4ac"/><circle cx="80.7" cy="171.3" r="2.58" fill="#fdcf4c"/><circle cx="84.8" cy="172.5" r="2.58" fill="#2a8ccd"/><circle cx="84.2" cy="168.4" r="2.58" fill="#8cc4ac"/><circle cx="85.7" cy="165.1" r="2.58" fill="#8cc4ac"/><circle cx="85.1" cy="158.8" r="2.58" fill="#fdcf4c"/><circle cx="82.4" cy="152.0" r="2.58" fill="#f7802a"/><circle cx="90.8" cy="184.5" r="2.58" fill="#fdcf4c"/><circle cx="72.1" cy="196.7" r="2.58" fill="#fdcf4c"/><circle cx="61.7" cy="197.7" r="2.58" fill="#2a8ccd"/><circle cx="64.3" cy="202.1" r="2.58" fill="#d4ea82"/><circle cx="83.2" cy="201.2" r="2.58" fill="#ec1a22"/><circle cx="36.0" cy="199.3" r="2.58" fill="#d4ea82"/><circle cx="105.8" cy="134.4" r="2.58" fill="#fdcf4c"/><circle cx="95.3" cy="140.0" r="2.58" fill="#fdcf4c"/><circle cx="166.3" cy="145.5" r="2.58" fill="#8cc4ac"/><circle cx="168.1" cy="151.7" r="2.58" fill="#d4ea82"/><circle cx="164.5" cy="126.0" r="2.58" fill="#2a8ccd"/><circle cx="117.6" cy="157.6" r="2.58" fill="#f7802a"/><circle cx="121.7" cy="155.7" r="2.58" fill="#fdcf4c"/><circle cx="119.9" cy="161.6" r="2.58" fill="#8cc4ac"/><circle cx="95.3" cy="164.3" r="2.58" fill="#d4ea82"/><circle cx="114.4" cy="168.4" r="2.58" fill="#f7802a"/><circle cx="93.8" cy="172.7" r="2.58" fill="#fdcf4c"/><circle cx="99.1" cy="178.7" r="2.58" fill="#f7802a"/><circle cx="115.8" cy="177.2" r="2.58" fill="#2a8ccd"/><circle cx="139.0" cy="166.6" r="2.58" fill="#fdcf4c"/><circle cx="161.3" cy="166.6" r="2.58" fill="#2a8ccd"/><circle cx="145.1" cy="171.9" r="2.58" fill="#2a8ccd"/><circle cx="147.1" cy="176.3" r="2.58" fill="#2a8ccd"/><circle cx="140.2" cy="178.4" r="2.58" fill="#2a8ccd"/><circle cx="157.7" cy="173.4" r="2.58" fill="#d4ea82"/><circle cx="161.3" cy="178.1" r="2.58" fill="#ec1a22"/><circle cx="166.3" cy="184.5" r="2.58" fill="#2a8ccd"/><circle cx="159.6" cy="188.3" r="2.58" fill="#2a8ccd"/><circle cx="150.2" cy="181.1" r="2.58" fill="#2a8ccd"/><circle cx="154.7" cy="181.9" r="2.58" fill="#2a8ccd"/><circle cx="148.3" cy="183.4" r="2.58" fill="#2a8ccd"/><circle cx="146.1" cy="185.6" r="2.58" fill="#2a8ccd"/><circle cx="151.6" cy="186.0" r="2.58" fill="#8cc4ac"/><circle cx="145.1" cy="188.9" r="2.58" fill="#2a8ccd"/><circle cx="121.1" cy="186.9" r="2.58" fill="#d4ea82"/><circle cx="131.1" cy="188.0" r="2.58" fill="#8cc4ac"/><circle cx="134.6" cy="189.3" r="2.58" fill="#8cc4ac"/><circle cx="136.7" cy="194.9" r="2.58" fill="#2a8ccd"/><circle cx="152.0" cy="195.2" r="2.58" fill="#8cc4ac"/><circle cx="160.2" cy="196.3" r="2.58" fill="#2a8ccd"/><circle cx="113.5" cy="193.2" r="2.58" fill="#2a8ccd"/><circle cx="117.8" cy="194.2" r="2.58" fill="#d4ea82"/><circle cx="112.3" cy="198.7" r="2.58" fill="#fdcf4c"/><circle cx="109.9" cy="203.5" r="2.58" fill="#fdcf4c"/><circle cx="117.4" cy="202.7" r="2.58" fill="#d4ea82"/><circle cx="100.8" cy="201.2" r="2.58" fill="#fdcf4c"/><circle cx="150.4" cy="202.4" r="2.58" fill="#d4ea82"/><circle cx="237.7" cy="133.2" r="2.58" fill="#fdcf4c"/><circle cx="171.1" cy="141.7" r="2.58" fill="#2a8ccd"/><circle cx="182.0" cy="146.1" r="2.58" fill="#2a8ccd"/><circle cx="238.3" cy="148.2" r="2.58" fill="#d4ea82"/><circle cx="170.5" cy="160.2" r="2.58" fill="#f7802a"/><circle cx="178.8" cy="164.9" r="2.58" fill="#8cc4ac"/><circle cx="179.3" cy="175.4" r="2.58" fill="#d4ea82"/><circle cx="229.5" cy="175.4" r="2.58" fill="#fdcf4c"/><circle cx="242.1" cy="160.8" r="2.58" fill="#d4ea82"/><circle cx="242.8" cy="180.2" r="2.58" fill="#8cc4ac"/><circle cx="189.0" cy="179.5" r="2.58" fill="#8cc4ac"/><circle cx="196.0" cy="180.5" r="2.58" fill="#fdcf4c"/><circle cx="187.9" cy="185.4" r="2.58" fill="#d4ea82"/><circle cx="190.8" cy="186.0" r="2.58" fill="#fdcf4c"/><circle cx="212.4" cy="183.1" r="2.58" fill="#d4ea82"/><circle cx="173.4" cy="181.3" r="2.58" fill="#2a8ccd"/><circle cx="170.6" cy="192.8" r="2.58" fill="#fdcf4c"/><circle cx="171.4" cy="196.5" r="2.58" fill="#ec1a22"/><circle cx="183.5" cy="197.9" r="2.58" fill="#f7802a"/><circle cx="176.1" cy="201.2" r="2.58" fill="#2a8ccd"/><circle cx="198.6" cy="201.2" r="2.58" fill="#d4ea82"/><circle cx="217.2" cy="201.9" r="2.58" fill="#f7802a"/><circle cx="232.8" cy="189.3" r="2.58" fill="#fdcf4c"/><circle cx="234.3" cy="197.1" r="2.58" fill="#fdcf4c"/><circle cx="258.5" cy="114.9" r="2.58" fill="#f7802a"/><circle cx="243.8" cy="120.7" r="2.58" fill="#fdcf4c"/><circle cx="243.5" cy="124.0" r="2.58" fill="#d4ea82"/><circle cx="260.5" cy="126.7" r="2.58" fill="#2a8ccd"/><circle cx="273.7" cy="122.8" r="2.58" fill="#8cc4ac"/><circle cx="286.0" cy="127.3" r="2.58" fill="#8cc4ac"/><circle cx="289.6" cy="131.9" r="2.58" fill="#f7802a"/><circle cx="245.3" cy="140.4" r="2.58" fill="#8cc4ac"/><circle cx="244.9" cy="146.5" r="2.58" fill="#f7802a"/><circle cx="253.5" cy="144.7" r="2.58" fill="#d4ea82"/><circle cx="280.2" cy="141.3" r="2.58" fill="#d4ea82"/><circle cx="285.2" cy="150.8" r="2.58" fill="#fdcf4c"/><circle cx="269.7" cy="154.0" r="2.58" fill="#d4ea82"/><circle cx="253.5" cy="156.6" r="2.58" fill="#d4ea82"/><circle cx="280.7" cy="159.6" r="2.58" fill="#8cc4ac"/><circle cx="302.4" cy="163.7" r="2.58" fill="#2a8ccd"/><circle cx="213.0" cy="57.9" r="2.58" fill="#fdcf4c"/><circle cx="189.9" cy="67.3" r="2.58" fill="#2a8ccd"/><circle cx="201.1" cy="67.2" r="2.58" fill="#2a8ccd"/><circle cx="213.3" cy="70.2" r="2.58" fill="#f7802a"/><circle cx="241.9" cy="49.4" r="2.58" fill="#f7802a"/><circle cx="234.4" cy="85.4" r="2.58" fill="#2a8ccd"/><circle cx="224.0" cy="82.0" r="2.58" fill="#f7802a"/><circle cx="222.6" cy="85.0" r="2.58" fill="#8cc4ac"/><circle cx="189.0" cy="82.3" r="2.58" fill="#f7802a"/><circle cx="193.7" cy="80.2" r="2.58" fill="#d4ea82"/><circle cx="201.6" cy="82.5" r="2.58" fill="#fdcf4c"/><circle cx="172.6" cy="90.2" r="2.58" fill="#d4ea82"/><circle cx="182.9" cy="89.9" r="2.58" fill="#8cc4ac"/><circle cx="174.6" cy="98.7" r="2.58" fill="#d4ea82"/><circle cx="180.2" cy="109.2" r="2.58" fill="#fdcf4c"/><circle cx="239.1" cy="117.4" r="2.58" fill="#ec1a22"/><circle cx="174.4" cy="119.3" r="2.58" fill="#fdcf4c"/><circle cx="197.0" cy="43.8" r="2.58" fill="#2a8ccd"/><circle cx="162.7" cy="94.0" r="2.58" fill="#8cc4ac"/><circle cx="146.1" cy="100.1" r="2.58" fill="#2a8ccd"/><circle cx="134.3" cy="103.0" r="2.58" fill="#f7802a"/><circle cx="153.7" cy="115.1" r="2.58" fill="#d4ea82"/><circle cx="144.3" cy="120.6" r="2.58" fill="#8cc4ac"/><circle cx="38.5" cy="207.6" r="2.58" fill="#d4ea82"/><circle cx="49.0" cy="210.0" r="2.58" fill="#8cc4ac"/><circle cx="59.9" cy="209.7" r="2.58" fill="#d4ea82"/><circle cx="78.7" cy="210.2" r="2.58" fill="#d4ea82"/><circle cx="62.3" cy="215.8" r="2.58" fill="#d4ea82"/><circle cx="72.7" cy="215.9" r="2.58" fill="#fdcf4c"/><circle cx="77.2" cy="221.7" r="2.58" fill="#f7802a"/><circle cx="35.2" cy="221.0" r="2.58" fill="#d4ea82"/><circle cx="23.8" cy="226.1" r="2.58" fill="#2a8ccd"/><circle cx="28.1" cy="232.2" r="2.58" fill="#fdcf4c"/><circle cx="61.9" cy="226.3" r="2.58" fill="#8cc4ac"/><circle cx="55.1" cy="234.9" r="2.58" fill="#2a8ccd"/><circle cx="71.7" cy="232.9" r="2.58" fill="#d4ea82"/><circle cx="76.3" cy="239.6" r="2.58" fill="#ec1a22"/><circle cx="92.4" cy="250.4" r="2.58" fill="#fdcf4c"/><circle cx="71.7" cy="264.2" r="2.58" fill="#8cc4ac"/><circle cx="95.9" cy="206.4" r="2.58" fill="#d4ea82"/><circle cx="94.1" cy="211.2" r="2.58" fill="#d4ea82"/><circle cx="108.4" cy="207.9" r="2.58" fill="#d4ea82"/><circle cx="111.5" cy="210.2" r="2.58" fill="#2a8ccd"/><circle cx="103.1" cy="213.8" r="2.58" fill="#8cc4ac"/><circle cx="109.9" cy="214.0" r="2.58" fill="#f7802a"/><circle cx="102.7" cy="217.1" r="2.58" fill="#ec1a22"/><circle cx="104.7" cy="221.0" r="2.58" fill="#fdcf4c"/><circle cx="98.4" cy="239.3" r="2.58" fill="#f7802a"/><circle cx="165.9" cy="204.0" r="2.58" fill="#2a8ccd"/><circle cx="166.1" cy="207.1" r="2.58" fill="#2a8ccd"/><circle cx="166.5" cy="253.1" r="2.58" fill="#f7802a"/><circle cx="156.5" cy="258.3" r="2.58" fill="#f7802a"/><circle cx="149.8" cy="271.6" r="2.58" fill="#2a8ccd"/><circle cx="171.7" cy="207.3" r="2.58" fill="#f7802a"/><circle cx="175.0" cy="207.3" r="2.58" fill="#2a8ccd"/><circle cx="169.1" cy="211.8" r="2.58" fill="#8cc4ac"/><circle cx="175.8" cy="212.8" r="2.58" fill="#8cc4ac"/><circle cx="186.6" cy="208.1" r="2.58" fill="#d4ea82"/><circle cx="186.0" cy="213.2" r="2.58" fill="#d4ea82"/><circle cx="176.4" cy="218.2" r="2.58" fill="#8cc4ac"/><circle cx="181.5" cy="223.4" r="2.58" fill="#f7802a"/><circle cx="229.4" cy="214.0" r="2.58" fill="#f7802a"/><circle cx="218.7" cy="224.3" r="2.58" fill="#2a8ccd"/><circle cx="173.8" cy="231.4" r="2.58" fill="#f7802a"/><circle cx="171.4" cy="237.6" r="2.58" fill="#fdcf4c"/><circle cx="190.3" cy="236.3" r="2.58" fill="#f7802a"/><circle cx="187.3" cy="239.3" r="2.58" fill="#d4ea82"/><circle cx="197.1" cy="242.3" r="2.58" fill="#f7802a"/><circle cx="218.3" cy="239.3" r="2.58" fill="#d4ea82"/><circle cx="222.8" cy="250.1" r="2.58" fill="#2a8ccd"/><circle cx="179.4" cy="254.2" r="2.58" fill="#fdcf4c"/><circle cx="199.5" cy="260.3" r="2.58" fill="#d4ea82"/><circle cx="187.8" cy="261.9" r="2.58" fill="#fdcf4c"/><circle cx="176.7" cy="266.2" r="2.58" fill="#f7802a"/><circle cx="187.2" cy="274.4" r="2.58" fill="#8cc4ac"/><circle cx="290.4" cy="180.5" r="2.58" fill="#fdcf4c"/><circle cx="269.0" cy="188.7" r="2.58" fill="#fdcf4c"/><circle cx="254.7" cy="194.9" r="2.58" fill="#fdcf4c"/><circle cx="276.9" cy="204.1" r="2.58" fill="#fdcf4c"/><circle cx="264.1" cy="208.4" r="2.58" fill="#fdcf4c"/><circle cx="269.4" cy="213.1" r="2.58" fill="#d4ea82"/><circle cx="254.4" cy="213.3" r="2.58" fill="#f7802a"/><circle cx="258.7" cy="213.3" r="2.58" fill="#8cc4ac"/><circle cx="262.6" cy="214.9" r="2.58" fill="#fdcf4c"/><circle cx="259.6" cy="218.4" r="2.58" fill="#d4ea82"/><circle cx="262.2" cy="222.5" r="2.58" fill="#fdcf4c"/><circle cx="253.5" cy="221.1" r="2.58" fill="#d4ea82"/><circle cx="260.5" cy="225.6" r="2.58" fill="#8cc4ac"/><circle cx="264.9" cy="225.6" r="2.58" fill="#2a8ccd"/><circle cx="264.3" cy="229.5" r="2.58" fill="#2a8ccd"/><circle cx="252.9" cy="229.2" r="2.58" fill="#8cc4ac"/><circle cx="240.3" cy="228.1" r="2.58" fill="#8cc4ac"/><circle cx="245.6" cy="230.7" r="2.58" fill="#fdcf4c"/><circle cx="239.5" cy="235.0" r="2.58" fill="#d4ea82"/><circle cx="244.7" cy="239.7" r="2.58" fill="#2a8ccd"/><circle cx="157.0" cy="278.7" r="2.58" fill="#d4ea82"/><circle cx="170.1" cy="280.8" r="2.58" fill="#8cc4ac"/><circle cx="172.8" cy="290.2" r="2.58" fill="#fdcf4c"/><circle cx="178.3" cy="289.0" r="2.58" fill="#f7802a"/><circle cx="176.7" cy="294.0" r="2.58" fill="#2a8ccd"/><circle cx="163.1" cy="295.2" r="2.58" fill="#8cc4ac"/><circle cx="169.1" cy="296.4" r="2.58" fill="#f7802a"/><circle cx="191.3" cy="292.5" r="2.58" fill="#fdcf4c"/><circle cx="193.7" cy="289.3" r="2.58" fill="#fdcf4c"/><circle cx="197.8" cy="288.0" r="2.58" fill="#f7802a"/><circle cx="206.5" cy="285.8" r="2.58" fill="#fdcf4c"/><circle cx="163.2" cy="306.3" r="2.58" fill="#d4ea82"/><circle cx="159.0" cy="307.7" r="2.58" fill="#2a8ccd"/><circle cx="155.6" cy="310.3" r="2.58" fill="#8cc4ac"/><circle cx="142.7" cy="317.4" r="2.58" fill="#f7802a"/><circle cx="146.1" cy="317.4" r="2.58" fill="#8cc4ac"/><circle cx="145.2" cy="321.2" r="2.58" fill="#fdcf4c"/><circle cx="193.1" cy="174.5" r="2.58" fill="#f7802a"/></g>
</g>
<text x="612.13" y="612.9" font-size="8.5" font-weight="bold" fill="#222">MNC/SOC (%)</text>
<circle cx="617.0" cy="620.70" r="2.5" fill="#2a8ccd" stroke="#262626" stroke-width="0.7"/>
<text x="623.69" y="623.70" font-size="8.4" font-weight="bold" fill="#222">6 - 22</text>
<circle cx="617.0" cy="630.20" r="2.5" fill="#8cc4ac" stroke="#262626" stroke-width="0.7"/>
<text x="623.71" y="633.20" font-size="8.4" font-weight="bold" fill="#222">23 - 31</text>
<circle cx="617.0" cy="639.70" r="2.5" fill="#d4ea82" stroke="#262626" stroke-width="0.7"/>
<text x="623.81" y="642.70" font-size="8.4" font-weight="bold" fill="#222">32 - 40</text>
<circle cx="617.0" cy="649.20" r="2.5" fill="#fdcf4c" stroke="#262626" stroke-width="0.7"/>
<text x="623.87" y="652.20" font-size="8.4" font-weight="bold" fill="#222">41 - 51</text>
<circle cx="617.0" cy="658.70" r="2.5" fill="#f7802a" stroke="#262626" stroke-width="0.7"/>
<text x="623.74" y="661.70" font-size="8.4" font-weight="bold" fill="#222">52 - 65</text>
<circle cx="617.0" cy="668.20" r="2.5" fill="#ec1a22" stroke="#262626" stroke-width="0.7"/>
<text x="623.69" y="671.20" font-size="8.4" font-weight="bold" fill="#222">66 - 90</text>
<text x="13.97" y="64.70" font-size="12.6" fill="#111" stroke="#111" stroke-width="0.22">Maize =</text>
<text x="62.84" y="64.70" font-size="12.6" fill="#111" stroke="#111" stroke-width="0.22">12.6</text>
<path d="M91.90,61.40H97.70M94.80,58.80V63.60M91.90,65.40H97.70" stroke="#1e1e1e" stroke-width="0.95" fill="none"/>
<text x="102.16" y="64.70" font-size="12.6" fill="#111" stroke="#111" stroke-width="0.22">6.2</text>
<text x="126.99" y="64.70" font-size="12.6" fill="#111" stroke="#111" stroke-width="0.22">b</text>
<text x="13.97" y="80.60" font-size="12.6" fill="#111" stroke="#111" stroke-width="0.22">Rice =</text>
<text x="53.94" y="80.60" font-size="12.6" fill="#111" stroke="#111" stroke-width="0.22">16.1</text>
<path d="M87.50,77.30H93.30M90.40,74.70V79.50M87.50,81.30H93.30" stroke="#1e1e1e" stroke-width="0.95" fill="none"/>
<text x="100.86" y="80.60" font-size="12.6" fill="#111" stroke="#111" stroke-width="0.22">6.1</text>
<text x="126.06" y="80.60" font-size="12.6" fill="#111" stroke="#111" stroke-width="0.22">a</text>
<text x="367.87" y="63.30" font-size="12.6" fill="#111" stroke="#111" stroke-width="0.22">Maize =</text>
<text x="416.51" y="63.30" font-size="12.6" fill="#111" stroke="#111" stroke-width="0.22">0.13</text>
<path d="M445.60,60.00H451.40M448.50,57.40V62.20M445.60,64.00H451.40" stroke="#1e1e1e" stroke-width="0.95" fill="none"/>
<text x="456.31" y="63.30" font-size="12.6" fill="#111" stroke="#111" stroke-width="0.22">0.06</text>
<text x="491.49" y="63.30" font-size="12.6" fill="#111" stroke="#111" stroke-width="0.22">b</text>
<text x="367.87" y="78.80" font-size="12.6" fill="#111" stroke="#111" stroke-width="0.22">Rice =</text>
<text x="407.71" y="78.80" font-size="12.6" fill="#111" stroke="#111" stroke-width="0.22">0.21</text>
<path d="M441.00,75.50H446.80M443.90,72.90V77.70M441.00,79.50H446.80" stroke="#1e1e1e" stroke-width="0.95" fill="none"/>
<text x="454.91" y="78.80" font-size="12.6" fill="#111" stroke="#111" stroke-width="0.22">0.09</text>
<text x="490.26" y="78.80" font-size="12.6" fill="#111" stroke="#111" stroke-width="0.22">a</text>
<text x="13.77" y="409.70" font-size="12.6" fill="#111" stroke="#111" stroke-width="0.22">Maize =</text>
<text x="61.81" y="409.70" font-size="12.6" fill="#111" stroke="#111" stroke-width="0.22">4.71</text>
<path d="M91.60,406.40H97.40M94.50,403.80V408.60M91.60,410.40H97.40" stroke="#1e1e1e" stroke-width="0.95" fill="none"/>
<text x="102.04" y="409.70" font-size="12.6" fill="#111" stroke="#111" stroke-width="0.22">1.54</text>
<text x="137.26" y="409.70" font-size="12.6" fill="#111" stroke="#111" stroke-width="0.22">a</text>
<text x="13.77" y="425.50" font-size="12.6" fill="#111" stroke="#111" stroke-width="0.22">Rice =</text>
<text x="53.52" y="425.50" font-size="12.6" fill="#111" stroke="#111" stroke-width="0.22">3.90</text>
<path d="M86.80,422.20H92.60M89.70,419.60V424.40M86.80,426.20H92.60" stroke="#1e1e1e" stroke-width="0.95" fill="none"/>
<text x="100.04" y="425.50" font-size="12.6" fill="#111" stroke="#111" stroke-width="0.22">1.19</text>
<text x="135.99" y="425.50" font-size="12.6" fill="#111" stroke="#111" stroke-width="0.22">b</text>
<text x="367.97" y="403.00" font-size="12.6" fill="#111" stroke="#111" stroke-width="0.22">Maize =</text>
<text x="415.91" y="403.00" font-size="12.6" fill="#111" stroke="#111" stroke-width="0.22">41.2</text>
<path d="M445.60,399.70H451.40M448.50,397.10V401.90M445.60,403.70H451.40" stroke="#1e1e1e" stroke-width="0.95" fill="none"/>
<text x="456.14" y="403.00" font-size="12.6" fill="#111" stroke="#111" stroke-width="0.22">13.6</text>
<text x="487.86" y="403.00" font-size="12.6" fill="#111" stroke="#111" stroke-width="0.22">a</text>
<text x="367.97" y="418.70" font-size="12.6" fill="#111" stroke="#111" stroke-width="0.22">Rice =</text>
<text x="407.37" y="418.70" font-size="12.6" fill="#111" stroke="#111" stroke-width="0.22">27.1</text>
<path d="M441.20,415.40H447.00M444.10,412.80V417.60M441.20,419.40H447.00" stroke="#1e1e1e" stroke-width="0.95" fill="none"/>
<text x="455.14" y="418.70" font-size="12.6" fill="#111" stroke="#111" stroke-width="0.22">13.0</text>
<text x="486.99" y="418.70" font-size="12.6" fill="#111" stroke="#111" stroke-width="0.22">b</text>
</svg></body></html>
